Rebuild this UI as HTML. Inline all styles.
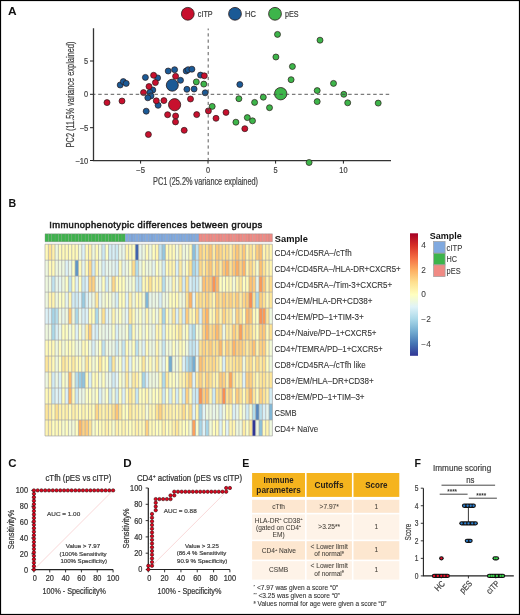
<!DOCTYPE html>
<html><head><meta charset="utf-8"><style>
html,body{margin:0;padding:0;background:#fff;width:520px;height:615px;overflow:hidden}
svg{display:block;font-family:"Liberation Sans", sans-serif;will-change:transform}
</style></head><body>
<svg width="520" height="615" viewBox="0 0 520 615" font-family='"Liberation Sans", sans-serif'><rect width="520" height="615" fill="#fff"/><circle cx="187.8" cy="13.8" r="6.4" fill="#c8102e" stroke="#2a1a1a" stroke-width="0.8"/><text x="197.80" y="17.10" font-size="9.2" fill="#3c3c3c" textLength="14.80" lengthAdjust="spacingAndGlyphs" stroke="#3c3c3c" stroke-width="0.22">cITP</text><circle cx="235.0" cy="13.8" r="6.4" fill="#1b5a96" stroke="#2a1a1a" stroke-width="0.8"/><text x="245.00" y="17.10" font-size="9.2" fill="#3c3c3c" textLength="10.80" lengthAdjust="spacingAndGlyphs" stroke="#3c3c3c" stroke-width="0.22">HC</text><circle cx="275.0" cy="13.8" r="6.4" fill="#3db54a" stroke="#2a1a1a" stroke-width="0.8"/><text x="285.00" y="17.10" font-size="9.2" fill="#3c3c3c" textLength="13.50" lengthAdjust="spacingAndGlyphs" stroke="#3c3c3c" stroke-width="0.22">pES</text><path d="M93.5 28.3V160.7H391" fill="none" stroke="#333" stroke-width="1.3"/><path d="M90 61.0H93.5" stroke="#222" stroke-width="1"/><text x="88.20" y="64.00" font-size="8.6" fill="#444" text-anchor="end" textLength="4.10" lengthAdjust="spacingAndGlyphs" stroke="#444" stroke-width="0.22">5</text><path d="M90 94.3H93.5" stroke="#222" stroke-width="1"/><text x="88.20" y="97.30" font-size="8.6" fill="#444" text-anchor="end" textLength="4.10" lengthAdjust="spacingAndGlyphs" stroke="#444" stroke-width="0.22">0</text><path d="M90 127.7H93.5" stroke="#222" stroke-width="1"/><text x="88.20" y="130.70" font-size="8.6" fill="#444" text-anchor="end" textLength="8.80" lengthAdjust="spacingAndGlyphs" stroke="#444" stroke-width="0.22">−5</text><path d="M90 160.5H93.5" stroke="#222" stroke-width="1"/><text x="88.20" y="163.50" font-size="8.6" fill="#444" text-anchor="end" textLength="12.90" lengthAdjust="spacingAndGlyphs" stroke="#444" stroke-width="0.22">−10</text><path d="M140.6 160.5V163.6" stroke="#222" stroke-width="1"/><text x="140.60" y="173.30" font-size="8.4" fill="#444" text-anchor="middle" textLength="8.80" lengthAdjust="spacingAndGlyphs" stroke="#444" stroke-width="0.22">−5</text><path d="M208.0 160.5V163.6" stroke="#222" stroke-width="1"/><text x="208.00" y="173.30" font-size="8.4" fill="#444" text-anchor="middle" textLength="4.10" lengthAdjust="spacingAndGlyphs" stroke="#444" stroke-width="0.22">0</text><path d="M275.6 160.5V163.6" stroke="#222" stroke-width="1"/><text x="275.60" y="173.30" font-size="8.4" fill="#444" text-anchor="middle" textLength="4.10" lengthAdjust="spacingAndGlyphs" stroke="#444" stroke-width="0.22">5</text><path d="M343.4 160.5V163.6" stroke="#222" stroke-width="1"/><text x="343.40" y="173.30" font-size="8.4" fill="#444" text-anchor="middle" textLength="8.20" lengthAdjust="spacingAndGlyphs" stroke="#444" stroke-width="0.22">10</text><text x="153.00" y="184.60" font-size="10.4" fill="#444" textLength="105.00" lengthAdjust="spacingAndGlyphs" stroke="#444" stroke-width="0.22">PC1 (25.2% variance explained)</text><text x="74.40" y="147.40" font-size="10.4" fill="#444" textLength="105.80" lengthAdjust="spacingAndGlyphs" stroke="#444" stroke-width="0.22" transform="rotate(-90 74.40 147.40)">PC2 (11.5% variance explained)</text><circle cx="172.3" cy="85.2" r="6.0" fill="#1b5a96" stroke="#2a1a1a" stroke-width="0.8"/><circle cx="174.6" cy="104.7" r="6.1" fill="#c8102e" stroke="#2a1a1a" stroke-width="0.8"/><circle cx="280.7" cy="93.7" r="6.2" fill="#3db54a" stroke="#2a1a1a" stroke-width="0.8"/><circle cx="196.3" cy="81.9" r="3.0" fill="#3db54a" stroke="#2a1a1a" stroke-width="0.7"/><circle cx="203.8" cy="84.1" r="3.0" fill="#3db54a" stroke="#2a1a1a" stroke-width="0.7"/><circle cx="212.2" cy="106.4" r="3.0" fill="#3db54a" stroke="#2a1a1a" stroke-width="0.7"/><circle cx="238.9" cy="98.7" r="3.0" fill="#3db54a" stroke="#2a1a1a" stroke-width="0.7"/><circle cx="254.6" cy="102.4" r="3.0" fill="#3db54a" stroke="#2a1a1a" stroke-width="0.7"/><circle cx="263.3" cy="97.2" r="3.0" fill="#3db54a" stroke="#2a1a1a" stroke-width="0.7"/><circle cx="235.9" cy="122.2" r="3.0" fill="#3db54a" stroke="#2a1a1a" stroke-width="0.7"/><circle cx="247.3" cy="117.6" r="3.0" fill="#3db54a" stroke="#2a1a1a" stroke-width="0.7"/><circle cx="252.5" cy="120.8" r="3.0" fill="#3db54a" stroke="#2a1a1a" stroke-width="0.7"/><circle cx="277.5" cy="34.4" r="3.0" fill="#3db54a" stroke="#2a1a1a" stroke-width="0.7"/><circle cx="320" cy="40.2" r="3.0" fill="#3db54a" stroke="#2a1a1a" stroke-width="0.7"/><circle cx="275.9" cy="57" r="3.0" fill="#3db54a" stroke="#2a1a1a" stroke-width="0.7"/><circle cx="292.4" cy="66.5" r="3.0" fill="#3db54a" stroke="#2a1a1a" stroke-width="0.7"/><circle cx="291.1" cy="79.7" r="3.0" fill="#3db54a" stroke="#2a1a1a" stroke-width="0.7"/><circle cx="269.5" cy="107.7" r="3.0" fill="#3db54a" stroke="#2a1a1a" stroke-width="0.7"/><circle cx="317.2" cy="90.6" r="3.0" fill="#3db54a" stroke="#2a1a1a" stroke-width="0.7"/><circle cx="317.2" cy="101.6" r="3.0" fill="#3db54a" stroke="#2a1a1a" stroke-width="0.7"/><circle cx="309.1" cy="162.5" r="3.0" fill="#3db54a" stroke="#2a1a1a" stroke-width="0.7"/><circle cx="333.5" cy="83.4" r="3.0" fill="#3db54a" stroke="#2a1a1a" stroke-width="0.7"/><circle cx="343.8" cy="94.3" r="3.0" fill="#3db54a" stroke="#2a1a1a" stroke-width="0.7"/><circle cx="347.7" cy="102.8" r="3.0" fill="#3db54a" stroke="#2a1a1a" stroke-width="0.7"/><circle cx="378.2" cy="103.1" r="3.0" fill="#3db54a" stroke="#2a1a1a" stroke-width="0.7"/><circle cx="120.2" cy="85" r="3.0" fill="#1b5a96" stroke="#2a1a1a" stroke-width="0.7"/><circle cx="123.3" cy="81.6" r="3.0" fill="#1b5a96" stroke="#2a1a1a" stroke-width="0.7"/><circle cx="126.2" cy="83.4" r="3.0" fill="#1b5a96" stroke="#2a1a1a" stroke-width="0.7"/><circle cx="145.4" cy="77.4" r="3.0" fill="#1b5a96" stroke="#2a1a1a" stroke-width="0.7"/><circle cx="157.6" cy="77.9" r="3.0" fill="#1b5a96" stroke="#2a1a1a" stroke-width="0.7"/><circle cx="152.8" cy="90" r="3.0" fill="#1b5a96" stroke="#2a1a1a" stroke-width="0.7"/><circle cx="149.9" cy="92.4" r="3.0" fill="#1b5a96" stroke="#2a1a1a" stroke-width="0.7"/><circle cx="151" cy="95.9" r="3.0" fill="#1b5a96" stroke="#2a1a1a" stroke-width="0.7"/><circle cx="147.8" cy="97.8" r="3.0" fill="#1b5a96" stroke="#2a1a1a" stroke-width="0.7"/><circle cx="158.1" cy="105.3" r="3.0" fill="#1b5a96" stroke="#2a1a1a" stroke-width="0.7"/><circle cx="146.2" cy="111.2" r="3.0" fill="#1b5a96" stroke="#2a1a1a" stroke-width="0.7"/><circle cx="168.2" cy="71" r="3.0" fill="#1b5a96" stroke="#2a1a1a" stroke-width="0.7"/><circle cx="174.6" cy="69.7" r="3.0" fill="#1b5a96" stroke="#2a1a1a" stroke-width="0.7"/><circle cx="180.5" cy="80.3" r="3.0" fill="#1b5a96" stroke="#2a1a1a" stroke-width="0.7"/><circle cx="186.2" cy="71" r="3.0" fill="#1b5a96" stroke="#2a1a1a" stroke-width="0.7"/><circle cx="188.1" cy="69.7" r="3.0" fill="#1b5a96" stroke="#2a1a1a" stroke-width="0.7"/><circle cx="191.9" cy="69.2" r="3.0" fill="#1b5a96" stroke="#2a1a1a" stroke-width="0.7"/><circle cx="200.5" cy="75.1" r="3.0" fill="#1b5a96" stroke="#2a1a1a" stroke-width="0.7"/><circle cx="186.9" cy="89.3" r="3.0" fill="#1b5a96" stroke="#2a1a1a" stroke-width="0.7"/><circle cx="194.1" cy="89" r="3.0" fill="#1b5a96" stroke="#2a1a1a" stroke-width="0.7"/><circle cx="205.2" cy="92.8" r="3.0" fill="#1b5a96" stroke="#2a1a1a" stroke-width="0.7"/><circle cx="239.8" cy="84.5" r="3.0" fill="#1b5a96" stroke="#2a1a1a" stroke-width="0.7"/><circle cx="107" cy="102.6" r="3.0" fill="#c8102e" stroke="#2a1a1a" stroke-width="0.7"/><circle cx="122" cy="101" r="3.0" fill="#c8102e" stroke="#2a1a1a" stroke-width="0.7"/><circle cx="143.5" cy="92.6" r="3.0" fill="#c8102e" stroke="#2a1a1a" stroke-width="0.7"/><circle cx="149" cy="86.5" r="3.0" fill="#c8102e" stroke="#2a1a1a" stroke-width="0.7"/><circle cx="153.6" cy="75.3" r="3.0" fill="#c8102e" stroke="#2a1a1a" stroke-width="0.7"/><circle cx="155.4" cy="82.6" r="3.0" fill="#c8102e" stroke="#2a1a1a" stroke-width="0.7"/><circle cx="156.3" cy="100.8" r="3.0" fill="#c8102e" stroke="#2a1a1a" stroke-width="0.7"/><circle cx="163.9" cy="100.6" r="3.0" fill="#c8102e" stroke="#2a1a1a" stroke-width="0.7"/><circle cx="175.6" cy="76.3" r="3.0" fill="#c8102e" stroke="#2a1a1a" stroke-width="0.7"/><circle cx="167.6" cy="114.7" r="3.0" fill="#c8102e" stroke="#2a1a1a" stroke-width="0.7"/><circle cx="175.6" cy="116" r="3.0" fill="#c8102e" stroke="#2a1a1a" stroke-width="0.7"/><circle cx="175.5" cy="121.9" r="3.0" fill="#c8102e" stroke="#2a1a1a" stroke-width="0.7"/><circle cx="148.4" cy="134.5" r="3.0" fill="#c8102e" stroke="#2a1a1a" stroke-width="0.7"/><circle cx="184.2" cy="130.3" r="3.0" fill="#c8102e" stroke="#2a1a1a" stroke-width="0.7"/><circle cx="190.5" cy="99" r="3.0" fill="#c8102e" stroke="#2a1a1a" stroke-width="0.7"/><circle cx="196.7" cy="114.6" r="3.0" fill="#c8102e" stroke="#2a1a1a" stroke-width="0.7"/><circle cx="204.3" cy="75.8" r="3.0" fill="#c8102e" stroke="#2a1a1a" stroke-width="0.7"/><circle cx="208.4" cy="110.9" r="3.0" fill="#c8102e" stroke="#2a1a1a" stroke-width="0.7"/><circle cx="216" cy="118.3" r="3.0" fill="#c8102e" stroke="#2a1a1a" stroke-width="0.7"/><circle cx="226" cy="112.4" r="3.0" fill="#c8102e" stroke="#2a1a1a" stroke-width="0.7"/><circle cx="244.8" cy="128.7" r="3.0" fill="#c8102e" stroke="#2a1a1a" stroke-width="0.7"/><path d="M93.5 94.3H391" stroke="#4a4a4a" stroke-width="1" stroke-dasharray="3.5 2.75" stroke-dashoffset="1.55" stroke-opacity="0.9"/><path d="M208.2 28.5V160.5" stroke="#4a4a4a" stroke-width="1" stroke-dasharray="3.2 3.03" stroke-dashoffset="1.43" stroke-opacity="0.9"/><rect x="45.000" y="233.8" width="3.394" height="8.0" fill="#3cb44b"/><rect x="48.344" y="233.8" width="3.394" height="8.0" fill="#3cb44b"/><rect x="51.688" y="233.8" width="3.394" height="8.0" fill="#3cb44b"/><rect x="55.032" y="233.8" width="3.394" height="8.0" fill="#3cb44b"/><rect x="58.376" y="233.8" width="3.394" height="8.0" fill="#3cb44b"/><rect x="61.721" y="233.8" width="3.394" height="8.0" fill="#3cb44b"/><rect x="65.065" y="233.8" width="3.394" height="8.0" fill="#3cb44b"/><rect x="68.409" y="233.8" width="3.394" height="8.0" fill="#3cb44b"/><rect x="71.753" y="233.8" width="3.394" height="8.0" fill="#3cb44b"/><rect x="75.097" y="233.8" width="3.394" height="8.0" fill="#3cb44b"/><rect x="78.441" y="233.8" width="3.394" height="8.0" fill="#3cb44b"/><rect x="81.785" y="233.8" width="3.394" height="8.0" fill="#3cb44b"/><rect x="85.129" y="233.8" width="3.394" height="8.0" fill="#3cb44b"/><rect x="88.474" y="233.8" width="3.394" height="8.0" fill="#3cb44b"/><rect x="91.818" y="233.8" width="3.394" height="8.0" fill="#3cb44b"/><rect x="95.162" y="233.8" width="3.394" height="8.0" fill="#3cb44b"/><rect x="98.506" y="233.8" width="3.394" height="8.0" fill="#3cb44b"/><rect x="101.850" y="233.8" width="3.394" height="8.0" fill="#3cb44b"/><rect x="105.194" y="233.8" width="3.394" height="8.0" fill="#3cb44b"/><rect x="108.538" y="233.8" width="3.394" height="8.0" fill="#3cb44b"/><rect x="111.882" y="233.8" width="3.394" height="8.0" fill="#3cb44b"/><rect x="115.226" y="233.8" width="3.394" height="8.0" fill="#3cb44b"/><rect x="118.571" y="233.8" width="3.394" height="8.0" fill="#3cb44b"/><rect x="121.915" y="233.8" width="3.394" height="8.0" fill="#3cb44b"/><rect x="125.259" y="233.8" width="3.394" height="8.0" fill="#80a9df"/><rect x="128.603" y="233.8" width="3.394" height="8.0" fill="#80a9df"/><rect x="131.947" y="233.8" width="3.394" height="8.0" fill="#80a9df"/><rect x="135.291" y="233.8" width="3.394" height="8.0" fill="#80a9df"/><rect x="138.635" y="233.8" width="3.394" height="8.0" fill="#80a9df"/><rect x="141.979" y="233.8" width="3.394" height="8.0" fill="#80a9df"/><rect x="145.324" y="233.8" width="3.394" height="8.0" fill="#80a9df"/><rect x="148.668" y="233.8" width="3.394" height="8.0" fill="#80a9df"/><rect x="152.012" y="233.8" width="3.394" height="8.0" fill="#80a9df"/><rect x="155.356" y="233.8" width="3.394" height="8.0" fill="#80a9df"/><rect x="158.700" y="233.8" width="3.394" height="8.0" fill="#80a9df"/><rect x="162.044" y="233.8" width="3.394" height="8.0" fill="#80a9df"/><rect x="165.388" y="233.8" width="3.394" height="8.0" fill="#80a9df"/><rect x="168.732" y="233.8" width="3.394" height="8.0" fill="#80a9df"/><rect x="172.076" y="233.8" width="3.394" height="8.0" fill="#80a9df"/><rect x="175.421" y="233.8" width="3.394" height="8.0" fill="#80a9df"/><rect x="178.765" y="233.8" width="3.394" height="8.0" fill="#80a9df"/><rect x="182.109" y="233.8" width="3.394" height="8.0" fill="#80a9df"/><rect x="185.453" y="233.8" width="3.394" height="8.0" fill="#80a9df"/><rect x="188.797" y="233.8" width="3.394" height="8.0" fill="#80a9df"/><rect x="192.141" y="233.8" width="3.394" height="8.0" fill="#80a9df"/><rect x="195.485" y="233.8" width="3.394" height="8.0" fill="#80a9df"/><rect x="198.829" y="233.8" width="3.394" height="8.0" fill="#f08a84"/><rect x="202.174" y="233.8" width="3.394" height="8.0" fill="#f08a84"/><rect x="205.518" y="233.8" width="3.394" height="8.0" fill="#f08a84"/><rect x="208.862" y="233.8" width="3.394" height="8.0" fill="#f08a84"/><rect x="212.206" y="233.8" width="3.394" height="8.0" fill="#f08a84"/><rect x="215.550" y="233.8" width="3.394" height="8.0" fill="#f08a84"/><rect x="218.894" y="233.8" width="3.394" height="8.0" fill="#f08a84"/><rect x="222.238" y="233.8" width="3.394" height="8.0" fill="#f08a84"/><rect x="225.582" y="233.8" width="3.394" height="8.0" fill="#f08a84"/><rect x="228.926" y="233.8" width="3.394" height="8.0" fill="#f08a84"/><rect x="232.271" y="233.8" width="3.394" height="8.0" fill="#f08a84"/><rect x="235.615" y="233.8" width="3.394" height="8.0" fill="#f08a84"/><rect x="238.959" y="233.8" width="3.394" height="8.0" fill="#f08a84"/><rect x="242.303" y="233.8" width="3.394" height="8.0" fill="#f08a84"/><rect x="245.647" y="233.8" width="3.394" height="8.0" fill="#f08a84"/><rect x="248.991" y="233.8" width="3.394" height="8.0" fill="#f08a84"/><rect x="252.335" y="233.8" width="3.394" height="8.0" fill="#f08a84"/><rect x="255.679" y="233.8" width="3.394" height="8.0" fill="#f08a84"/><rect x="259.024" y="233.8" width="3.394" height="8.0" fill="#f08a84"/><rect x="262.368" y="233.8" width="3.394" height="8.0" fill="#f08a84"/><rect x="265.712" y="233.8" width="3.394" height="8.0" fill="#f08a84"/><rect x="269.056" y="233.8" width="3.394" height="8.0" fill="#f08a84"/><rect x="45.000" y="244.200" width="3.394" height="16.030" fill="#fffab8"/><rect x="48.344" y="244.200" width="3.394" height="16.030" fill="#fee292"/><rect x="51.688" y="244.200" width="3.394" height="16.030" fill="#fff0a9"/><rect x="55.032" y="244.200" width="3.394" height="16.030" fill="#eef8de"/><rect x="58.376" y="244.200" width="3.394" height="16.030" fill="#fffab8"/><rect x="61.721" y="244.200" width="3.394" height="16.030" fill="#fffab8"/><rect x="65.065" y="244.200" width="3.394" height="16.030" fill="#fffab8"/><rect x="68.409" y="244.200" width="3.394" height="16.030" fill="#fffab8"/><rect x="71.753" y="244.200" width="3.394" height="16.030" fill="#fffab8"/><rect x="75.097" y="244.200" width="3.394" height="16.030" fill="#fffab8"/><rect x="78.441" y="244.200" width="3.394" height="16.030" fill="#eef8de"/><rect x="81.785" y="244.200" width="3.394" height="16.030" fill="#ddf2f7"/><rect x="85.129" y="244.200" width="3.394" height="16.030" fill="#fffab8"/><rect x="88.474" y="244.200" width="3.394" height="16.030" fill="#fff0a9"/><rect x="91.818" y="244.200" width="3.394" height="16.030" fill="#eef8de"/><rect x="95.162" y="244.200" width="3.394" height="16.030" fill="#fffab8"/><rect x="98.506" y="244.200" width="3.394" height="16.030" fill="#eef8de"/><rect x="101.850" y="244.200" width="3.394" height="16.030" fill="#cce9f2"/><rect x="105.194" y="244.200" width="3.394" height="16.030" fill="#fcfec5"/><rect x="108.538" y="244.200" width="3.394" height="16.030" fill="#d2ecf4"/><rect x="111.882" y="244.200" width="3.394" height="16.030" fill="#d8eff6"/><rect x="115.226" y="244.200" width="3.394" height="16.030" fill="#cce9f2"/><rect x="118.571" y="244.200" width="3.394" height="16.030" fill="#ebf7e4"/><rect x="121.915" y="244.200" width="3.394" height="16.030" fill="#e8f6ea"/><rect x="125.259" y="244.200" width="3.394" height="16.030" fill="#fff5b0"/><rect x="128.603" y="244.200" width="3.394" height="16.030" fill="#fffab8"/><rect x="131.947" y="244.200" width="3.394" height="16.030" fill="#fffebe"/><rect x="135.291" y="244.200" width="3.394" height="16.030" fill="#4064ac"/><rect x="138.635" y="244.200" width="3.394" height="16.030" fill="#e8f6ea"/><rect x="141.979" y="244.200" width="3.394" height="16.030" fill="#eef8de"/><rect x="145.324" y="244.200" width="3.394" height="16.030" fill="#fffab8"/><rect x="148.668" y="244.200" width="3.394" height="16.030" fill="#eef8de"/><rect x="152.012" y="244.200" width="3.394" height="16.030" fill="#fffebe"/><rect x="155.356" y="244.200" width="3.394" height="16.030" fill="#fff5b0"/><rect x="158.700" y="244.200" width="3.394" height="16.030" fill="#c0e3ef"/><rect x="162.044" y="244.200" width="3.394" height="16.030" fill="#95c7df"/><rect x="165.388" y="244.200" width="3.394" height="16.030" fill="#fffab8"/><rect x="168.732" y="244.200" width="3.394" height="16.030" fill="#fffab8"/><rect x="172.076" y="244.200" width="3.394" height="16.030" fill="#fffab8"/><rect x="175.421" y="244.200" width="3.394" height="16.030" fill="#eef8de"/><rect x="178.765" y="244.200" width="3.394" height="16.030" fill="#fff5b0"/><rect x="182.109" y="244.200" width="3.394" height="16.030" fill="#eef8de"/><rect x="185.453" y="244.200" width="3.394" height="16.030" fill="#f3fad6"/><rect x="188.797" y="244.200" width="3.394" height="16.030" fill="#fffab8"/><rect x="192.141" y="244.200" width="3.394" height="16.030" fill="#8abfdb"/><rect x="195.485" y="244.200" width="3.394" height="16.030" fill="#c0e3ef"/><rect x="198.829" y="244.200" width="3.394" height="16.030" fill="#fed182"/><rect x="202.174" y="244.200" width="3.394" height="16.030" fill="#fee292"/><rect x="205.518" y="244.200" width="3.394" height="16.030" fill="#fedd8d"/><rect x="208.862" y="244.200" width="3.394" height="16.030" fill="#fdc677"/><rect x="212.206" y="244.200" width="3.394" height="16.030" fill="#feeba1"/><rect x="215.550" y="244.200" width="3.394" height="16.030" fill="#fecc7d"/><rect x="218.894" y="244.200" width="3.394" height="16.030" fill="#fed788"/><rect x="222.238" y="244.200" width="3.394" height="16.030" fill="#fee292"/><rect x="225.582" y="244.200" width="3.394" height="16.030" fill="#fedd8d"/><rect x="228.926" y="244.200" width="3.394" height="16.030" fill="#fff0a9"/><rect x="232.271" y="244.200" width="3.394" height="16.030" fill="#fed788"/><rect x="235.615" y="244.200" width="3.394" height="16.030" fill="#fdc677"/><rect x="238.959" y="244.200" width="3.394" height="16.030" fill="#fee292"/><rect x="242.303" y="244.200" width="3.394" height="16.030" fill="#fdc677"/><rect x="245.647" y="244.200" width="3.394" height="16.030" fill="#fff5b0"/><rect x="248.991" y="244.200" width="3.394" height="16.030" fill="#fee292"/><rect x="252.335" y="244.200" width="3.394" height="16.030" fill="#fff0a9"/><rect x="255.679" y="244.200" width="3.394" height="16.030" fill="#fecc7d"/><rect x="259.024" y="244.200" width="3.394" height="16.030" fill="#fdc072"/><rect x="262.368" y="244.200" width="3.394" height="16.030" fill="#fff5b0"/><rect x="265.712" y="244.200" width="3.394" height="16.030" fill="#fff0a9"/><rect x="269.056" y="244.200" width="3.394" height="16.030" fill="#fff5b0"/><rect x="45.000" y="260.180" width="3.394" height="16.030" fill="#eef8de"/><rect x="48.344" y="260.180" width="3.394" height="16.030" fill="#fffab8"/><rect x="51.688" y="260.180" width="3.394" height="16.030" fill="#fffab8"/><rect x="55.032" y="260.180" width="3.394" height="16.030" fill="#eef8de"/><rect x="58.376" y="260.180" width="3.394" height="16.030" fill="#eef8de"/><rect x="61.721" y="260.180" width="3.394" height="16.030" fill="#eef8de"/><rect x="65.065" y="260.180" width="3.394" height="16.030" fill="#ddf2f7"/><rect x="68.409" y="260.180" width="3.394" height="16.030" fill="#e8f6ea"/><rect x="71.753" y="260.180" width="3.394" height="16.030" fill="#fcfec5"/><rect x="75.097" y="260.180" width="3.394" height="16.030" fill="#6197c5"/><rect x="78.441" y="260.180" width="3.394" height="16.030" fill="#fffab8"/><rect x="81.785" y="260.180" width="3.394" height="16.030" fill="#e5f5ef"/><rect x="85.129" y="260.180" width="3.394" height="16.030" fill="#fffab8"/><rect x="88.474" y="260.180" width="3.394" height="16.030" fill="#fed788"/><rect x="91.818" y="260.180" width="3.394" height="16.030" fill="#d2ecf4"/><rect x="95.162" y="260.180" width="3.394" height="16.030" fill="#fff5b0"/><rect x="98.506" y="260.180" width="3.394" height="16.030" fill="#eef8de"/><rect x="101.850" y="260.180" width="3.394" height="16.030" fill="#d8eff6"/><rect x="105.194" y="260.180" width="3.394" height="16.030" fill="#e8f6ea"/><rect x="108.538" y="260.180" width="3.394" height="16.030" fill="#e8f6ea"/><rect x="111.882" y="260.180" width="3.394" height="16.030" fill="#e5f5ef"/><rect x="115.226" y="260.180" width="3.394" height="16.030" fill="#d8eff6"/><rect x="118.571" y="260.180" width="3.394" height="16.030" fill="#fffab8"/><rect x="121.915" y="260.180" width="3.394" height="16.030" fill="#e5f5ef"/><rect x="125.259" y="260.180" width="3.394" height="16.030" fill="#eef8de"/><rect x="128.603" y="260.180" width="3.394" height="16.030" fill="#fcfec5"/><rect x="131.947" y="260.180" width="3.394" height="16.030" fill="#fedd8d"/><rect x="135.291" y="260.180" width="3.394" height="16.030" fill="#b0dcea"/><rect x="138.635" y="260.180" width="3.394" height="16.030" fill="#ebf7e4"/><rect x="141.979" y="260.180" width="3.394" height="16.030" fill="#fcfec5"/><rect x="145.324" y="260.180" width="3.394" height="16.030" fill="#eef8de"/><rect x="148.668" y="260.180" width="3.394" height="16.030" fill="#eef8de"/><rect x="152.012" y="260.180" width="3.394" height="16.030" fill="#e5f5ef"/><rect x="155.356" y="260.180" width="3.394" height="16.030" fill="#fffebe"/><rect x="158.700" y="260.180" width="3.394" height="16.030" fill="#eef8de"/><rect x="162.044" y="260.180" width="3.394" height="16.030" fill="#d2ecf4"/><rect x="165.388" y="260.180" width="3.394" height="16.030" fill="#fffab8"/><rect x="168.732" y="260.180" width="3.394" height="16.030" fill="#fff5b0"/><rect x="172.076" y="260.180" width="3.394" height="16.030" fill="#fff5b0"/><rect x="175.421" y="260.180" width="3.394" height="16.030" fill="#d8eff6"/><rect x="178.765" y="260.180" width="3.394" height="16.030" fill="#feeba1"/><rect x="182.109" y="260.180" width="3.394" height="16.030" fill="#eef8de"/><rect x="185.453" y="260.180" width="3.394" height="16.030" fill="#fffab8"/><rect x="188.797" y="260.180" width="3.394" height="16.030" fill="#fee292"/><rect x="192.141" y="260.180" width="3.394" height="16.030" fill="#a6d5e7"/><rect x="195.485" y="260.180" width="3.394" height="16.030" fill="#c0e3ef"/><rect x="198.829" y="260.180" width="3.394" height="16.030" fill="#fed788"/><rect x="202.174" y="260.180" width="3.394" height="16.030" fill="#feeba1"/><rect x="205.518" y="260.180" width="3.394" height="16.030" fill="#fed788"/><rect x="208.862" y="260.180" width="3.394" height="16.030" fill="#fdc677"/><rect x="212.206" y="260.180" width="3.394" height="16.030" fill="#feeba1"/><rect x="215.550" y="260.180" width="3.394" height="16.030" fill="#fecc7d"/><rect x="218.894" y="260.180" width="3.394" height="16.030" fill="#feeba1"/><rect x="222.238" y="260.180" width="3.394" height="16.030" fill="#fdc677"/><rect x="225.582" y="260.180" width="3.394" height="16.030" fill="#fdb467"/><rect x="228.926" y="260.180" width="3.394" height="16.030" fill="#fee292"/><rect x="232.271" y="260.180" width="3.394" height="16.030" fill="#fdc677"/><rect x="235.615" y="260.180" width="3.394" height="16.030" fill="#fdaf62"/><rect x="238.959" y="260.180" width="3.394" height="16.030" fill="#fed182"/><rect x="242.303" y="260.180" width="3.394" height="16.030" fill="#fdb467"/><rect x="245.647" y="260.180" width="3.394" height="16.030" fill="#fff5b0"/><rect x="248.991" y="260.180" width="3.394" height="16.030" fill="#fed788"/><rect x="252.335" y="260.180" width="3.394" height="16.030" fill="#feeba1"/><rect x="255.679" y="260.180" width="3.394" height="16.030" fill="#f7fccd"/><rect x="259.024" y="260.180" width="3.394" height="16.030" fill="#fdc072"/><rect x="262.368" y="260.180" width="3.394" height="16.030" fill="#fee292"/><rect x="265.712" y="260.180" width="3.394" height="16.030" fill="#fff5b0"/><rect x="269.056" y="260.180" width="3.394" height="16.030" fill="#fff5b0"/><rect x="45.000" y="276.160" width="3.394" height="16.030" fill="#eef8de"/><rect x="48.344" y="276.160" width="3.394" height="16.030" fill="#eef8de"/><rect x="51.688" y="276.160" width="3.394" height="16.030" fill="#c0e3ef"/><rect x="55.032" y="276.160" width="3.394" height="16.030" fill="#e8f6ea"/><rect x="58.376" y="276.160" width="3.394" height="16.030" fill="#e5f5ef"/><rect x="61.721" y="276.160" width="3.394" height="16.030" fill="#eef8de"/><rect x="65.065" y="276.160" width="3.394" height="16.030" fill="#fcfec5"/><rect x="68.409" y="276.160" width="3.394" height="16.030" fill="#c0e3ef"/><rect x="71.753" y="276.160" width="3.394" height="16.030" fill="#fffebe"/><rect x="75.097" y="276.160" width="3.394" height="16.030" fill="#ddf2f7"/><rect x="78.441" y="276.160" width="3.394" height="16.030" fill="#fffebe"/><rect x="81.785" y="276.160" width="3.394" height="16.030" fill="#cce9f2"/><rect x="85.129" y="276.160" width="3.394" height="16.030" fill="#ddf2f7"/><rect x="88.474" y="276.160" width="3.394" height="16.030" fill="#fed182"/><rect x="91.818" y="276.160" width="3.394" height="16.030" fill="#fed182"/><rect x="95.162" y="276.160" width="3.394" height="16.030" fill="#eef8de"/><rect x="98.506" y="276.160" width="3.394" height="16.030" fill="#e8f6ea"/><rect x="101.850" y="276.160" width="3.394" height="16.030" fill="#fffebe"/><rect x="105.194" y="276.160" width="3.394" height="16.030" fill="#d2ecf4"/><rect x="108.538" y="276.160" width="3.394" height="16.030" fill="#eef8de"/><rect x="111.882" y="276.160" width="3.394" height="16.030" fill="#fed788"/><rect x="115.226" y="276.160" width="3.394" height="16.030" fill="#fffab8"/><rect x="118.571" y="276.160" width="3.394" height="16.030" fill="#fffebe"/><rect x="121.915" y="276.160" width="3.394" height="16.030" fill="#fffebe"/><rect x="125.259" y="276.160" width="3.394" height="16.030" fill="#eef8de"/><rect x="128.603" y="276.160" width="3.394" height="16.030" fill="#eef8de"/><rect x="131.947" y="276.160" width="3.394" height="16.030" fill="#f7fccd"/><rect x="135.291" y="276.160" width="3.394" height="16.030" fill="#c6e6f1"/><rect x="138.635" y="276.160" width="3.394" height="16.030" fill="#cce9f2"/><rect x="141.979" y="276.160" width="3.394" height="16.030" fill="#fffab8"/><rect x="145.324" y="276.160" width="3.394" height="16.030" fill="#fff5b0"/><rect x="148.668" y="276.160" width="3.394" height="16.030" fill="#fee292"/><rect x="152.012" y="276.160" width="3.394" height="16.030" fill="#fffab8"/><rect x="155.356" y="276.160" width="3.394" height="16.030" fill="#fff5b0"/><rect x="158.700" y="276.160" width="3.394" height="16.030" fill="#fff5b0"/><rect x="162.044" y="276.160" width="3.394" height="16.030" fill="#b6deec"/><rect x="165.388" y="276.160" width="3.394" height="16.030" fill="#eef8de"/><rect x="168.732" y="276.160" width="3.394" height="16.030" fill="#ebf7e4"/><rect x="172.076" y="276.160" width="3.394" height="16.030" fill="#fff5b0"/><rect x="175.421" y="276.160" width="3.394" height="16.030" fill="#eef8de"/><rect x="178.765" y="276.160" width="3.394" height="16.030" fill="#fee79a"/><rect x="182.109" y="276.160" width="3.394" height="16.030" fill="#d2ecf4"/><rect x="185.453" y="276.160" width="3.394" height="16.030" fill="#fee292"/><rect x="188.797" y="276.160" width="3.394" height="16.030" fill="#d8eff6"/><rect x="192.141" y="276.160" width="3.394" height="16.030" fill="#c6e6f1"/><rect x="195.485" y="276.160" width="3.394" height="16.030" fill="#cce9f2"/><rect x="198.829" y="276.160" width="3.394" height="16.030" fill="#eef8de"/><rect x="202.174" y="276.160" width="3.394" height="16.030" fill="#fdc072"/><rect x="205.518" y="276.160" width="3.394" height="16.030" fill="#fecc7d"/><rect x="208.862" y="276.160" width="3.394" height="16.030" fill="#fdc677"/><rect x="212.206" y="276.160" width="3.394" height="16.030" fill="#f99455"/><rect x="215.550" y="276.160" width="3.394" height="16.030" fill="#fdba6d"/><rect x="218.894" y="276.160" width="3.394" height="16.030" fill="#fffebe"/><rect x="222.238" y="276.160" width="3.394" height="16.030" fill="#fcfec5"/><rect x="225.582" y="276.160" width="3.394" height="16.030" fill="#fffab8"/><rect x="228.926" y="276.160" width="3.394" height="16.030" fill="#fffab8"/><rect x="232.271" y="276.160" width="3.394" height="16.030" fill="#f3fad6"/><rect x="235.615" y="276.160" width="3.394" height="16.030" fill="#fff5b0"/><rect x="238.959" y="276.160" width="3.394" height="16.030" fill="#fee79a"/><rect x="242.303" y="276.160" width="3.394" height="16.030" fill="#fffebe"/><rect x="245.647" y="276.160" width="3.394" height="16.030" fill="#fffab8"/><rect x="248.991" y="276.160" width="3.394" height="16.030" fill="#fdc072"/><rect x="252.335" y="276.160" width="3.394" height="16.030" fill="#fecc7d"/><rect x="255.679" y="276.160" width="3.394" height="16.030" fill="#e8f6ea"/><rect x="259.024" y="276.160" width="3.394" height="16.030" fill="#fa9b58"/><rect x="262.368" y="276.160" width="3.394" height="16.030" fill="#fdc677"/><rect x="265.712" y="276.160" width="3.394" height="16.030" fill="#fff5b0"/><rect x="269.056" y="276.160" width="3.394" height="16.030" fill="#fedd8d"/><rect x="45.000" y="292.140" width="3.394" height="16.030" fill="#eef8de"/><rect x="48.344" y="292.140" width="3.394" height="16.030" fill="#fff5b0"/><rect x="51.688" y="292.140" width="3.394" height="16.030" fill="#fff5b0"/><rect x="55.032" y="292.140" width="3.394" height="16.030" fill="#eef8de"/><rect x="58.376" y="292.140" width="3.394" height="16.030" fill="#fcfec5"/><rect x="61.721" y="292.140" width="3.394" height="16.030" fill="#fcfec5"/><rect x="65.065" y="292.140" width="3.394" height="16.030" fill="#e5f5ef"/><rect x="68.409" y="292.140" width="3.394" height="16.030" fill="#fff5b0"/><rect x="71.753" y="292.140" width="3.394" height="16.030" fill="#d2ecf4"/><rect x="75.097" y="292.140" width="3.394" height="16.030" fill="#cce9f2"/><rect x="78.441" y="292.140" width="3.394" height="16.030" fill="#ddf2f7"/><rect x="81.785" y="292.140" width="3.394" height="16.030" fill="#9acce2"/><rect x="85.129" y="292.140" width="3.394" height="16.030" fill="#d8eff6"/><rect x="88.474" y="292.140" width="3.394" height="16.030" fill="#e8f6ea"/><rect x="91.818" y="292.140" width="3.394" height="16.030" fill="#eef8de"/><rect x="95.162" y="292.140" width="3.394" height="16.030" fill="#fee79a"/><rect x="98.506" y="292.140" width="3.394" height="16.030" fill="#e5f5ef"/><rect x="101.850" y="292.140" width="3.394" height="16.030" fill="#f3fad6"/><rect x="105.194" y="292.140" width="3.394" height="16.030" fill="#f7fccd"/><rect x="108.538" y="292.140" width="3.394" height="16.030" fill="#f3fad6"/><rect x="111.882" y="292.140" width="3.394" height="16.030" fill="#ebf7e4"/><rect x="115.226" y="292.140" width="3.394" height="16.030" fill="#d2ecf4"/><rect x="118.571" y="292.140" width="3.394" height="16.030" fill="#fffebe"/><rect x="121.915" y="292.140" width="3.394" height="16.030" fill="#fffebe"/><rect x="125.259" y="292.140" width="3.394" height="16.030" fill="#ddf2f7"/><rect x="128.603" y="292.140" width="3.394" height="16.030" fill="#fff0a9"/><rect x="131.947" y="292.140" width="3.394" height="16.030" fill="#eef8de"/><rect x="135.291" y="292.140" width="3.394" height="16.030" fill="#fffab8"/><rect x="138.635" y="292.140" width="3.394" height="16.030" fill="#fffab8"/><rect x="141.979" y="292.140" width="3.394" height="16.030" fill="#f3fad6"/><rect x="145.324" y="292.140" width="3.394" height="16.030" fill="#81b8d7"/><rect x="148.668" y="292.140" width="3.394" height="16.030" fill="#e8f6ea"/><rect x="152.012" y="292.140" width="3.394" height="16.030" fill="#ebf7e4"/><rect x="155.356" y="292.140" width="3.394" height="16.030" fill="#ebf7e4"/><rect x="158.700" y="292.140" width="3.394" height="16.030" fill="#d8eff6"/><rect x="162.044" y="292.140" width="3.394" height="16.030" fill="#eef8de"/><rect x="165.388" y="292.140" width="3.394" height="16.030" fill="#eef8de"/><rect x="168.732" y="292.140" width="3.394" height="16.030" fill="#fffebe"/><rect x="172.076" y="292.140" width="3.394" height="16.030" fill="#fffebe"/><rect x="175.421" y="292.140" width="3.394" height="16.030" fill="#fffab8"/><rect x="178.765" y="292.140" width="3.394" height="16.030" fill="#f3fad6"/><rect x="182.109" y="292.140" width="3.394" height="16.030" fill="#eef8de"/><rect x="185.453" y="292.140" width="3.394" height="16.030" fill="#fee292"/><rect x="188.797" y="292.140" width="3.394" height="16.030" fill="#fdb467"/><rect x="192.141" y="292.140" width="3.394" height="16.030" fill="#e2f4f5"/><rect x="195.485" y="292.140" width="3.394" height="16.030" fill="#fee292"/><rect x="198.829" y="292.140" width="3.394" height="16.030" fill="#fedd8d"/><rect x="202.174" y="292.140" width="3.394" height="16.030" fill="#fee292"/><rect x="205.518" y="292.140" width="3.394" height="16.030" fill="#fed182"/><rect x="208.862" y="292.140" width="3.394" height="16.030" fill="#fee79a"/><rect x="212.206" y="292.140" width="3.394" height="16.030" fill="#fff5b0"/><rect x="215.550" y="292.140" width="3.394" height="16.030" fill="#fecc7d"/><rect x="218.894" y="292.140" width="3.394" height="16.030" fill="#fee292"/><rect x="222.238" y="292.140" width="3.394" height="16.030" fill="#fecc7d"/><rect x="225.582" y="292.140" width="3.394" height="16.030" fill="#fedd8d"/><rect x="228.926" y="292.140" width="3.394" height="16.030" fill="#fed182"/><rect x="232.271" y="292.140" width="3.394" height="16.030" fill="#fee292"/><rect x="235.615" y="292.140" width="3.394" height="16.030" fill="#fecc7d"/><rect x="238.959" y="292.140" width="3.394" height="16.030" fill="#feeba1"/><rect x="242.303" y="292.140" width="3.394" height="16.030" fill="#fed788"/><rect x="245.647" y="292.140" width="3.394" height="16.030" fill="#fecc7d"/><rect x="248.991" y="292.140" width="3.394" height="16.030" fill="#f98e52"/><rect x="252.335" y="292.140" width="3.394" height="16.030" fill="#fee292"/><rect x="255.679" y="292.140" width="3.394" height="16.030" fill="#b0dcea"/><rect x="259.024" y="292.140" width="3.394" height="16.030" fill="#fecc7d"/><rect x="262.368" y="292.140" width="3.394" height="16.030" fill="#fee292"/><rect x="265.712" y="292.140" width="3.394" height="16.030" fill="#fffab8"/><rect x="269.056" y="292.140" width="3.394" height="16.030" fill="#fee79a"/><rect x="45.000" y="308.120" width="3.394" height="16.030" fill="#ddf2f7"/><rect x="48.344" y="308.120" width="3.394" height="16.030" fill="#d8eff6"/><rect x="51.688" y="308.120" width="3.394" height="16.030" fill="#a6d5e7"/><rect x="55.032" y="308.120" width="3.394" height="16.030" fill="#b6deec"/><rect x="58.376" y="308.120" width="3.394" height="16.030" fill="#eef8de"/><rect x="61.721" y="308.120" width="3.394" height="16.030" fill="#e8f6ea"/><rect x="65.065" y="308.120" width="3.394" height="16.030" fill="#eef8de"/><rect x="68.409" y="308.120" width="3.394" height="16.030" fill="#fdc677"/><rect x="71.753" y="308.120" width="3.394" height="16.030" fill="#eef8de"/><rect x="75.097" y="308.120" width="3.394" height="16.030" fill="#abd9e9"/><rect x="78.441" y="308.120" width="3.394" height="16.030" fill="#e8f6ea"/><rect x="81.785" y="308.120" width="3.394" height="16.030" fill="#d8eff6"/><rect x="85.129" y="308.120" width="3.394" height="16.030" fill="#ddf2f7"/><rect x="88.474" y="308.120" width="3.394" height="16.030" fill="#fffab8"/><rect x="91.818" y="308.120" width="3.394" height="16.030" fill="#fffebe"/><rect x="95.162" y="308.120" width="3.394" height="16.030" fill="#abd9e9"/><rect x="98.506" y="308.120" width="3.394" height="16.030" fill="#eef8de"/><rect x="101.850" y="308.120" width="3.394" height="16.030" fill="#fee292"/><rect x="105.194" y="308.120" width="3.394" height="16.030" fill="#ddf2f7"/><rect x="108.538" y="308.120" width="3.394" height="16.030" fill="#e8f6ea"/><rect x="111.882" y="308.120" width="3.394" height="16.030" fill="#fff5b0"/><rect x="115.226" y="308.120" width="3.394" height="16.030" fill="#eef8de"/><rect x="118.571" y="308.120" width="3.394" height="16.030" fill="#fffebe"/><rect x="121.915" y="308.120" width="3.394" height="16.030" fill="#eef8de"/><rect x="125.259" y="308.120" width="3.394" height="16.030" fill="#e2f4f5"/><rect x="128.603" y="308.120" width="3.394" height="16.030" fill="#fee79a"/><rect x="131.947" y="308.120" width="3.394" height="16.030" fill="#fffab8"/><rect x="135.291" y="308.120" width="3.394" height="16.030" fill="#eef8de"/><rect x="138.635" y="308.120" width="3.394" height="16.030" fill="#fcfec5"/><rect x="141.979" y="308.120" width="3.394" height="16.030" fill="#ebf7e4"/><rect x="145.324" y="308.120" width="3.394" height="16.030" fill="#fff5b0"/><rect x="148.668" y="308.120" width="3.394" height="16.030" fill="#eef8de"/><rect x="152.012" y="308.120" width="3.394" height="16.030" fill="#fcfec5"/><rect x="155.356" y="308.120" width="3.394" height="16.030" fill="#ebf7e4"/><rect x="158.700" y="308.120" width="3.394" height="16.030" fill="#fff5b0"/><rect x="162.044" y="308.120" width="3.394" height="16.030" fill="#a6d5e7"/><rect x="165.388" y="308.120" width="3.394" height="16.030" fill="#fffab8"/><rect x="168.732" y="308.120" width="3.394" height="16.030" fill="#eef8de"/><rect x="172.076" y="308.120" width="3.394" height="16.030" fill="#fee79a"/><rect x="175.421" y="308.120" width="3.394" height="16.030" fill="#d8eff6"/><rect x="178.765" y="308.120" width="3.394" height="16.030" fill="#fff0a9"/><rect x="182.109" y="308.120" width="3.394" height="16.030" fill="#d2ecf4"/><rect x="185.453" y="308.120" width="3.394" height="16.030" fill="#fecc7d"/><rect x="188.797" y="308.120" width="3.394" height="16.030" fill="#fff5b0"/><rect x="192.141" y="308.120" width="3.394" height="16.030" fill="#fffab8"/><rect x="195.485" y="308.120" width="3.394" height="16.030" fill="#fed788"/><rect x="198.829" y="308.120" width="3.394" height="16.030" fill="#d8eff6"/><rect x="202.174" y="308.120" width="3.394" height="16.030" fill="#fecc7d"/><rect x="205.518" y="308.120" width="3.394" height="16.030" fill="#fdb467"/><rect x="208.862" y="308.120" width="3.394" height="16.030" fill="#fffab8"/><rect x="212.206" y="308.120" width="3.394" height="16.030" fill="#fff5b0"/><rect x="215.550" y="308.120" width="3.394" height="16.030" fill="#fed182"/><rect x="218.894" y="308.120" width="3.394" height="16.030" fill="#fff5b0"/><rect x="222.238" y="308.120" width="3.394" height="16.030" fill="#fed182"/><rect x="225.582" y="308.120" width="3.394" height="16.030" fill="#fee79a"/><rect x="228.926" y="308.120" width="3.394" height="16.030" fill="#feeba1"/><rect x="232.271" y="308.120" width="3.394" height="16.030" fill="#f3fad6"/><rect x="235.615" y="308.120" width="3.394" height="16.030" fill="#fed182"/><rect x="238.959" y="308.120" width="3.394" height="16.030" fill="#fee79a"/><rect x="242.303" y="308.120" width="3.394" height="16.030" fill="#fffebe"/><rect x="245.647" y="308.120" width="3.394" height="16.030" fill="#fdba6d"/><rect x="248.991" y="308.120" width="3.394" height="16.030" fill="#fdc677"/><rect x="252.335" y="308.120" width="3.394" height="16.030" fill="#fffab8"/><rect x="255.679" y="308.120" width="3.394" height="16.030" fill="#fcfec5"/><rect x="259.024" y="308.120" width="3.394" height="16.030" fill="#f99455"/><rect x="262.368" y="308.120" width="3.394" height="16.030" fill="#fa9b58"/><rect x="265.712" y="308.120" width="3.394" height="16.030" fill="#fee79a"/><rect x="269.056" y="308.120" width="3.394" height="16.030" fill="#eef8de"/><rect x="45.000" y="324.100" width="3.394" height="16.030" fill="#eef8de"/><rect x="48.344" y="324.100" width="3.394" height="16.030" fill="#eef8de"/><rect x="51.688" y="324.100" width="3.394" height="16.030" fill="#abd9e9"/><rect x="55.032" y="324.100" width="3.394" height="16.030" fill="#d8eff6"/><rect x="58.376" y="324.100" width="3.394" height="16.030" fill="#e8f6ea"/><rect x="61.721" y="324.100" width="3.394" height="16.030" fill="#fffebe"/><rect x="65.065" y="324.100" width="3.394" height="16.030" fill="#fcfec5"/><rect x="68.409" y="324.100" width="3.394" height="16.030" fill="#eef8de"/><rect x="71.753" y="324.100" width="3.394" height="16.030" fill="#fcfec5"/><rect x="75.097" y="324.100" width="3.394" height="16.030" fill="#ddf2f7"/><rect x="78.441" y="324.100" width="3.394" height="16.030" fill="#fcfec5"/><rect x="81.785" y="324.100" width="3.394" height="16.030" fill="#e8f6ea"/><rect x="85.129" y="324.100" width="3.394" height="16.030" fill="#fff0a9"/><rect x="88.474" y="324.100" width="3.394" height="16.030" fill="#fecc7d"/><rect x="91.818" y="324.100" width="3.394" height="16.030" fill="#e2f4f5"/><rect x="95.162" y="324.100" width="3.394" height="16.030" fill="#d2ecf4"/><rect x="98.506" y="324.100" width="3.394" height="16.030" fill="#eef8de"/><rect x="101.850" y="324.100" width="3.394" height="16.030" fill="#ebf7e4"/><rect x="105.194" y="324.100" width="3.394" height="16.030" fill="#e8f6ea"/><rect x="108.538" y="324.100" width="3.394" height="16.030" fill="#ebf7e4"/><rect x="111.882" y="324.100" width="3.394" height="16.030" fill="#fcfec5"/><rect x="115.226" y="324.100" width="3.394" height="16.030" fill="#d8eff6"/><rect x="118.571" y="324.100" width="3.394" height="16.030" fill="#eef8de"/><rect x="121.915" y="324.100" width="3.394" height="16.030" fill="#ebf7e4"/><rect x="125.259" y="324.100" width="3.394" height="16.030" fill="#f7fccd"/><rect x="128.603" y="324.100" width="3.394" height="16.030" fill="#b6deec"/><rect x="131.947" y="324.100" width="3.394" height="16.030" fill="#fffab8"/><rect x="135.291" y="324.100" width="3.394" height="16.030" fill="#ebf7e4"/><rect x="138.635" y="324.100" width="3.394" height="16.030" fill="#fcfec5"/><rect x="141.979" y="324.100" width="3.394" height="16.030" fill="#ebf7e4"/><rect x="145.324" y="324.100" width="3.394" height="16.030" fill="#fffebe"/><rect x="148.668" y="324.100" width="3.394" height="16.030" fill="#eef8de"/><rect x="152.012" y="324.100" width="3.394" height="16.030" fill="#e8f6ea"/><rect x="155.356" y="324.100" width="3.394" height="16.030" fill="#fff5b0"/><rect x="158.700" y="324.100" width="3.394" height="16.030" fill="#fffab8"/><rect x="162.044" y="324.100" width="3.394" height="16.030" fill="#d2ecf4"/><rect x="165.388" y="324.100" width="3.394" height="16.030" fill="#fffab8"/><rect x="168.732" y="324.100" width="3.394" height="16.030" fill="#fffebe"/><rect x="172.076" y="324.100" width="3.394" height="16.030" fill="#fffab8"/><rect x="175.421" y="324.100" width="3.394" height="16.030" fill="#fff5b0"/><rect x="178.765" y="324.100" width="3.394" height="16.030" fill="#fee79a"/><rect x="182.109" y="324.100" width="3.394" height="16.030" fill="#f3fad6"/><rect x="185.453" y="324.100" width="3.394" height="16.030" fill="#fffab8"/><rect x="188.797" y="324.100" width="3.394" height="16.030" fill="#cce9f2"/><rect x="192.141" y="324.100" width="3.394" height="16.030" fill="#abd9e9"/><rect x="195.485" y="324.100" width="3.394" height="16.030" fill="#f3fad6"/><rect x="198.829" y="324.100" width="3.394" height="16.030" fill="#f3fad6"/><rect x="202.174" y="324.100" width="3.394" height="16.030" fill="#fed182"/><rect x="205.518" y="324.100" width="3.394" height="16.030" fill="#fdb467"/><rect x="208.862" y="324.100" width="3.394" height="16.030" fill="#fedd8d"/><rect x="212.206" y="324.100" width="3.394" height="16.030" fill="#fed182"/><rect x="215.550" y="324.100" width="3.394" height="16.030" fill="#fdba6d"/><rect x="218.894" y="324.100" width="3.394" height="16.030" fill="#fedd8d"/><rect x="222.238" y="324.100" width="3.394" height="16.030" fill="#ebf7e4"/><rect x="225.582" y="324.100" width="3.394" height="16.030" fill="#feeba1"/><rect x="228.926" y="324.100" width="3.394" height="16.030" fill="#fff0a9"/><rect x="232.271" y="324.100" width="3.394" height="16.030" fill="#fecc7d"/><rect x="235.615" y="324.100" width="3.394" height="16.030" fill="#fee292"/><rect x="238.959" y="324.100" width="3.394" height="16.030" fill="#fba15b"/><rect x="242.303" y="324.100" width="3.394" height="16.030" fill="#fedd8d"/><rect x="245.647" y="324.100" width="3.394" height="16.030" fill="#fed182"/><rect x="248.991" y="324.100" width="3.394" height="16.030" fill="#fedd8d"/><rect x="252.335" y="324.100" width="3.394" height="16.030" fill="#fff0a9"/><rect x="255.679" y="324.100" width="3.394" height="16.030" fill="#fffebe"/><rect x="259.024" y="324.100" width="3.394" height="16.030" fill="#fecc7d"/><rect x="262.368" y="324.100" width="3.394" height="16.030" fill="#fdc677"/><rect x="265.712" y="324.100" width="3.394" height="16.030" fill="#fffab8"/><rect x="269.056" y="324.100" width="3.394" height="16.030" fill="#fee292"/><rect x="45.000" y="340.080" width="3.394" height="16.030" fill="#fffab8"/><rect x="48.344" y="340.080" width="3.394" height="16.030" fill="#fffab8"/><rect x="51.688" y="340.080" width="3.394" height="16.030" fill="#fffab8"/><rect x="55.032" y="340.080" width="3.394" height="16.030" fill="#eef8de"/><rect x="58.376" y="340.080" width="3.394" height="16.030" fill="#fffab8"/><rect x="61.721" y="340.080" width="3.394" height="16.030" fill="#f3fad6"/><rect x="65.065" y="340.080" width="3.394" height="16.030" fill="#fcfec5"/><rect x="68.409" y="340.080" width="3.394" height="16.030" fill="#fffab8"/><rect x="71.753" y="340.080" width="3.394" height="16.030" fill="#fcfec5"/><rect x="75.097" y="340.080" width="3.394" height="16.030" fill="#eef8de"/><rect x="78.441" y="340.080" width="3.394" height="16.030" fill="#eef8de"/><rect x="81.785" y="340.080" width="3.394" height="16.030" fill="#fffab8"/><rect x="85.129" y="340.080" width="3.394" height="16.030" fill="#fffebe"/><rect x="88.474" y="340.080" width="3.394" height="16.030" fill="#eef8de"/><rect x="91.818" y="340.080" width="3.394" height="16.030" fill="#d8eff6"/><rect x="95.162" y="340.080" width="3.394" height="16.030" fill="#eef8de"/><rect x="98.506" y="340.080" width="3.394" height="16.030" fill="#fffebe"/><rect x="101.850" y="340.080" width="3.394" height="16.030" fill="#c0e3ef"/><rect x="105.194" y="340.080" width="3.394" height="16.030" fill="#eef8de"/><rect x="108.538" y="340.080" width="3.394" height="16.030" fill="#ebf7e4"/><rect x="111.882" y="340.080" width="3.394" height="16.030" fill="#ebf7e4"/><rect x="115.226" y="340.080" width="3.394" height="16.030" fill="#cce9f2"/><rect x="118.571" y="340.080" width="3.394" height="16.030" fill="#eef8de"/><rect x="121.915" y="340.080" width="3.394" height="16.030" fill="#c6e6f1"/><rect x="125.259" y="340.080" width="3.394" height="16.030" fill="#fffab8"/><rect x="128.603" y="340.080" width="3.394" height="16.030" fill="#eef8de"/><rect x="131.947" y="340.080" width="3.394" height="16.030" fill="#fffebe"/><rect x="135.291" y="340.080" width="3.394" height="16.030" fill="#bbe1ee"/><rect x="138.635" y="340.080" width="3.394" height="16.030" fill="#eef8de"/><rect x="141.979" y="340.080" width="3.394" height="16.030" fill="#ddf2f7"/><rect x="145.324" y="340.080" width="3.394" height="16.030" fill="#fffab8"/><rect x="148.668" y="340.080" width="3.394" height="16.030" fill="#eef8de"/><rect x="152.012" y="340.080" width="3.394" height="16.030" fill="#ebf7e4"/><rect x="155.356" y="340.080" width="3.394" height="16.030" fill="#fff5b0"/><rect x="158.700" y="340.080" width="3.394" height="16.030" fill="#eef8de"/><rect x="162.044" y="340.080" width="3.394" height="16.030" fill="#c6e6f1"/><rect x="165.388" y="340.080" width="3.394" height="16.030" fill="#f3fad6"/><rect x="168.732" y="340.080" width="3.394" height="16.030" fill="#eef8de"/><rect x="172.076" y="340.080" width="3.394" height="16.030" fill="#fffebe"/><rect x="175.421" y="340.080" width="3.394" height="16.030" fill="#eef8de"/><rect x="178.765" y="340.080" width="3.394" height="16.030" fill="#fffab8"/><rect x="182.109" y="340.080" width="3.394" height="16.030" fill="#fcfec5"/><rect x="185.453" y="340.080" width="3.394" height="16.030" fill="#eef8de"/><rect x="188.797" y="340.080" width="3.394" height="16.030" fill="#c6e6f1"/><rect x="192.141" y="340.080" width="3.394" height="16.030" fill="#c0e3ef"/><rect x="195.485" y="340.080" width="3.394" height="16.030" fill="#d8eff6"/><rect x="198.829" y="340.080" width="3.394" height="16.030" fill="#fee292"/><rect x="202.174" y="340.080" width="3.394" height="16.030" fill="#fed182"/><rect x="205.518" y="340.080" width="3.394" height="16.030" fill="#fedd8d"/><rect x="208.862" y="340.080" width="3.394" height="16.030" fill="#fecc7d"/><rect x="212.206" y="340.080" width="3.394" height="16.030" fill="#fee292"/><rect x="215.550" y="340.080" width="3.394" height="16.030" fill="#fedd8d"/><rect x="218.894" y="340.080" width="3.394" height="16.030" fill="#fdba6d"/><rect x="222.238" y="340.080" width="3.394" height="16.030" fill="#fff0a9"/><rect x="225.582" y="340.080" width="3.394" height="16.030" fill="#fed182"/><rect x="228.926" y="340.080" width="3.394" height="16.030" fill="#fee292"/><rect x="232.271" y="340.080" width="3.394" height="16.030" fill="#fdb467"/><rect x="235.615" y="340.080" width="3.394" height="16.030" fill="#fed182"/><rect x="238.959" y="340.080" width="3.394" height="16.030" fill="#fecc7d"/><rect x="242.303" y="340.080" width="3.394" height="16.030" fill="#fed788"/><rect x="245.647" y="340.080" width="3.394" height="16.030" fill="#feeba1"/><rect x="248.991" y="340.080" width="3.394" height="16.030" fill="#fed788"/><rect x="252.335" y="340.080" width="3.394" height="16.030" fill="#fdc072"/><rect x="255.679" y="340.080" width="3.394" height="16.030" fill="#fff5b0"/><rect x="259.024" y="340.080" width="3.394" height="16.030" fill="#fed182"/><rect x="262.368" y="340.080" width="3.394" height="16.030" fill="#fecc7d"/><rect x="265.712" y="340.080" width="3.394" height="16.030" fill="#fffab8"/><rect x="269.056" y="340.080" width="3.394" height="16.030" fill="#f3fad6"/><rect x="45.000" y="356.060" width="3.394" height="16.030" fill="#fee79a"/><rect x="48.344" y="356.060" width="3.394" height="16.030" fill="#fff0a9"/><rect x="51.688" y="356.060" width="3.394" height="16.030" fill="#fffab8"/><rect x="55.032" y="356.060" width="3.394" height="16.030" fill="#eef8de"/><rect x="58.376" y="356.060" width="3.394" height="16.030" fill="#fffebe"/><rect x="61.721" y="356.060" width="3.394" height="16.030" fill="#fee79a"/><rect x="65.065" y="356.060" width="3.394" height="16.030" fill="#fff0a9"/><rect x="68.409" y="356.060" width="3.394" height="16.030" fill="#fff5b0"/><rect x="71.753" y="356.060" width="3.394" height="16.030" fill="#feeba1"/><rect x="75.097" y="356.060" width="3.394" height="16.030" fill="#fffab8"/><rect x="78.441" y="356.060" width="3.394" height="16.030" fill="#fffab8"/><rect x="81.785" y="356.060" width="3.394" height="16.030" fill="#f3fad6"/><rect x="85.129" y="356.060" width="3.394" height="16.030" fill="#fee79a"/><rect x="88.474" y="356.060" width="3.394" height="16.030" fill="#fffab8"/><rect x="91.818" y="356.060" width="3.394" height="16.030" fill="#f3fad6"/><rect x="95.162" y="356.060" width="3.394" height="16.030" fill="#fcfec5"/><rect x="98.506" y="356.060" width="3.394" height="16.030" fill="#fee79a"/><rect x="101.850" y="356.060" width="3.394" height="16.030" fill="#fffebe"/><rect x="105.194" y="356.060" width="3.394" height="16.030" fill="#fffebe"/><rect x="108.538" y="356.060" width="3.394" height="16.030" fill="#bbe1ee"/><rect x="111.882" y="356.060" width="3.394" height="16.030" fill="#fee79a"/><rect x="115.226" y="356.060" width="3.394" height="16.030" fill="#eef8de"/><rect x="118.571" y="356.060" width="3.394" height="16.030" fill="#fcfec5"/><rect x="121.915" y="356.060" width="3.394" height="16.030" fill="#ddf2f7"/><rect x="125.259" y="356.060" width="3.394" height="16.030" fill="#fff0a9"/><rect x="128.603" y="356.060" width="3.394" height="16.030" fill="#ddf2f7"/><rect x="131.947" y="356.060" width="3.394" height="16.030" fill="#fffebe"/><rect x="135.291" y="356.060" width="3.394" height="16.030" fill="#eef8de"/><rect x="138.635" y="356.060" width="3.394" height="16.030" fill="#fcfec5"/><rect x="141.979" y="356.060" width="3.394" height="16.030" fill="#fee79a"/><rect x="145.324" y="356.060" width="3.394" height="16.030" fill="#f3fad6"/><rect x="148.668" y="356.060" width="3.394" height="16.030" fill="#fffab8"/><rect x="152.012" y="356.060" width="3.394" height="16.030" fill="#f3fad6"/><rect x="155.356" y="356.060" width="3.394" height="16.030" fill="#feeba1"/><rect x="158.700" y="356.060" width="3.394" height="16.030" fill="#eef8de"/><rect x="162.044" y="356.060" width="3.394" height="16.030" fill="#e2f4f5"/><rect x="165.388" y="356.060" width="3.394" height="16.030" fill="#fffebe"/><rect x="168.732" y="356.060" width="3.394" height="16.030" fill="#74add1"/><rect x="172.076" y="356.060" width="3.394" height="16.030" fill="#eef8de"/><rect x="175.421" y="356.060" width="3.394" height="16.030" fill="#eef8de"/><rect x="178.765" y="356.060" width="3.394" height="16.030" fill="#fffab8"/><rect x="182.109" y="356.060" width="3.394" height="16.030" fill="#ddf2f7"/><rect x="185.453" y="356.060" width="3.394" height="16.030" fill="#b6deec"/><rect x="188.797" y="356.060" width="3.394" height="16.030" fill="#9acce2"/><rect x="192.141" y="356.060" width="3.394" height="16.030" fill="#74add1"/><rect x="195.485" y="356.060" width="3.394" height="16.030" fill="#e8f6ea"/><rect x="198.829" y="356.060" width="3.394" height="16.030" fill="#fdc072"/><rect x="202.174" y="356.060" width="3.394" height="16.030" fill="#fed182"/><rect x="205.518" y="356.060" width="3.394" height="16.030" fill="#fee292"/><rect x="208.862" y="356.060" width="3.394" height="16.030" fill="#fedd8d"/><rect x="212.206" y="356.060" width="3.394" height="16.030" fill="#fed788"/><rect x="215.550" y="356.060" width="3.394" height="16.030" fill="#fee79a"/><rect x="218.894" y="356.060" width="3.394" height="16.030" fill="#fffab8"/><rect x="222.238" y="356.060" width="3.394" height="16.030" fill="#d8eff6"/><rect x="225.582" y="356.060" width="3.394" height="16.030" fill="#fee79a"/><rect x="228.926" y="356.060" width="3.394" height="16.030" fill="#feeba1"/><rect x="232.271" y="356.060" width="3.394" height="16.030" fill="#fee292"/><rect x="235.615" y="356.060" width="3.394" height="16.030" fill="#fee292"/><rect x="238.959" y="356.060" width="3.394" height="16.030" fill="#fedd8d"/><rect x="242.303" y="356.060" width="3.394" height="16.030" fill="#eef8de"/><rect x="245.647" y="356.060" width="3.394" height="16.030" fill="#fee79a"/><rect x="248.991" y="356.060" width="3.394" height="16.030" fill="#fedd8d"/><rect x="252.335" y="356.060" width="3.394" height="16.030" fill="#fff5b0"/><rect x="255.679" y="356.060" width="3.394" height="16.030" fill="#fedd8d"/><rect x="259.024" y="356.060" width="3.394" height="16.030" fill="#feeba1"/><rect x="262.368" y="356.060" width="3.394" height="16.030" fill="#fedd8d"/><rect x="265.712" y="356.060" width="3.394" height="16.030" fill="#fffebe"/><rect x="269.056" y="356.060" width="3.394" height="16.030" fill="#eef8de"/><rect x="45.000" y="372.040" width="3.394" height="16.030" fill="#eef8de"/><rect x="48.344" y="372.040" width="3.394" height="16.030" fill="#fff5b0"/><rect x="51.688" y="372.040" width="3.394" height="16.030" fill="#d2ecf4"/><rect x="55.032" y="372.040" width="3.394" height="16.030" fill="#ebf7e4"/><rect x="58.376" y="372.040" width="3.394" height="16.030" fill="#d8eff6"/><rect x="61.721" y="372.040" width="3.394" height="16.030" fill="#fcfec5"/><rect x="65.065" y="372.040" width="3.394" height="16.030" fill="#f3fad6"/><rect x="68.409" y="372.040" width="3.394" height="16.030" fill="#fdba6d"/><rect x="71.753" y="372.040" width="3.394" height="16.030" fill="#f3fad6"/><rect x="75.097" y="372.040" width="3.394" height="16.030" fill="#b6deec"/><rect x="78.441" y="372.040" width="3.394" height="16.030" fill="#9acce2"/><rect x="81.785" y="372.040" width="3.394" height="16.030" fill="#90c3dd"/><rect x="85.129" y="372.040" width="3.394" height="16.030" fill="#fffab8"/><rect x="88.474" y="372.040" width="3.394" height="16.030" fill="#d8eff6"/><rect x="91.818" y="372.040" width="3.394" height="16.030" fill="#fffebe"/><rect x="95.162" y="372.040" width="3.394" height="16.030" fill="#fffab8"/><rect x="98.506" y="372.040" width="3.394" height="16.030" fill="#eef8de"/><rect x="101.850" y="372.040" width="3.394" height="16.030" fill="#fffebe"/><rect x="105.194" y="372.040" width="3.394" height="16.030" fill="#ebf7e4"/><rect x="108.538" y="372.040" width="3.394" height="16.030" fill="#e8f6ea"/><rect x="111.882" y="372.040" width="3.394" height="16.030" fill="#d2ecf4"/><rect x="115.226" y="372.040" width="3.394" height="16.030" fill="#e2f4f5"/><rect x="118.571" y="372.040" width="3.394" height="16.030" fill="#fcfec5"/><rect x="121.915" y="372.040" width="3.394" height="16.030" fill="#eef8de"/><rect x="125.259" y="372.040" width="3.394" height="16.030" fill="#fee79a"/><rect x="128.603" y="372.040" width="3.394" height="16.030" fill="#eef8de"/><rect x="131.947" y="372.040" width="3.394" height="16.030" fill="#feeba1"/><rect x="135.291" y="372.040" width="3.394" height="16.030" fill="#fff0a9"/><rect x="138.635" y="372.040" width="3.394" height="16.030" fill="#fcfec5"/><rect x="141.979" y="372.040" width="3.394" height="16.030" fill="#a6d5e7"/><rect x="145.324" y="372.040" width="3.394" height="16.030" fill="#d8eff6"/><rect x="148.668" y="372.040" width="3.394" height="16.030" fill="#eef8de"/><rect x="152.012" y="372.040" width="3.394" height="16.030" fill="#eef8de"/><rect x="155.356" y="372.040" width="3.394" height="16.030" fill="#eef8de"/><rect x="158.700" y="372.040" width="3.394" height="16.030" fill="#fffab8"/><rect x="162.044" y="372.040" width="3.394" height="16.030" fill="#b0dcea"/><rect x="165.388" y="372.040" width="3.394" height="16.030" fill="#fee79a"/><rect x="168.732" y="372.040" width="3.394" height="16.030" fill="#fcfec5"/><rect x="172.076" y="372.040" width="3.394" height="16.030" fill="#fffebe"/><rect x="175.421" y="372.040" width="3.394" height="16.030" fill="#f3fad6"/><rect x="178.765" y="372.040" width="3.394" height="16.030" fill="#fff5b0"/><rect x="182.109" y="372.040" width="3.394" height="16.030" fill="#fff5b0"/><rect x="185.453" y="372.040" width="3.394" height="16.030" fill="#fee292"/><rect x="188.797" y="372.040" width="3.394" height="16.030" fill="#fecc7d"/><rect x="192.141" y="372.040" width="3.394" height="16.030" fill="#ddf2f7"/><rect x="195.485" y="372.040" width="3.394" height="16.030" fill="#feeba1"/><rect x="198.829" y="372.040" width="3.394" height="16.030" fill="#fed182"/><rect x="202.174" y="372.040" width="3.394" height="16.030" fill="#feeba1"/><rect x="205.518" y="372.040" width="3.394" height="16.030" fill="#fed182"/><rect x="208.862" y="372.040" width="3.394" height="16.030" fill="#fee292"/><rect x="212.206" y="372.040" width="3.394" height="16.030" fill="#fff0a9"/><rect x="215.550" y="372.040" width="3.394" height="16.030" fill="#fff5b0"/><rect x="218.894" y="372.040" width="3.394" height="16.030" fill="#fecc7d"/><rect x="222.238" y="372.040" width="3.394" height="16.030" fill="#fed182"/><rect x="225.582" y="372.040" width="3.394" height="16.030" fill="#fff0a9"/><rect x="228.926" y="372.040" width="3.394" height="16.030" fill="#fca85e"/><rect x="232.271" y="372.040" width="3.394" height="16.030" fill="#fee79a"/><rect x="235.615" y="372.040" width="3.394" height="16.030" fill="#fff5b0"/><rect x="238.959" y="372.040" width="3.394" height="16.030" fill="#fff0a9"/><rect x="242.303" y="372.040" width="3.394" height="16.030" fill="#ddf2f7"/><rect x="245.647" y="372.040" width="3.394" height="16.030" fill="#fed182"/><rect x="248.991" y="372.040" width="3.394" height="16.030" fill="#fed182"/><rect x="252.335" y="372.040" width="3.394" height="16.030" fill="#feeba1"/><rect x="255.679" y="372.040" width="3.394" height="16.030" fill="#fffab8"/><rect x="259.024" y="372.040" width="3.394" height="16.030" fill="#fee79a"/><rect x="262.368" y="372.040" width="3.394" height="16.030" fill="#fee292"/><rect x="265.712" y="372.040" width="3.394" height="16.030" fill="#fff0a9"/><rect x="269.056" y="372.040" width="3.394" height="16.030" fill="#fee79a"/><rect x="45.000" y="388.020" width="3.394" height="16.030" fill="#fffab8"/><rect x="48.344" y="388.020" width="3.394" height="16.030" fill="#fff5b0"/><rect x="51.688" y="388.020" width="3.394" height="16.030" fill="#cce9f2"/><rect x="55.032" y="388.020" width="3.394" height="16.030" fill="#e2f4f5"/><rect x="58.376" y="388.020" width="3.394" height="16.030" fill="#d8eff6"/><rect x="61.721" y="388.020" width="3.394" height="16.030" fill="#fffebe"/><rect x="65.065" y="388.020" width="3.394" height="16.030" fill="#ddf2f7"/><rect x="68.409" y="388.020" width="3.394" height="16.030" fill="#fdb467"/><rect x="71.753" y="388.020" width="3.394" height="16.030" fill="#fffab8"/><rect x="75.097" y="388.020" width="3.394" height="16.030" fill="#cce9f2"/><rect x="78.441" y="388.020" width="3.394" height="16.030" fill="#ebf7e4"/><rect x="81.785" y="388.020" width="3.394" height="16.030" fill="#ebf7e4"/><rect x="85.129" y="388.020" width="3.394" height="16.030" fill="#fcfec5"/><rect x="88.474" y="388.020" width="3.394" height="16.030" fill="#fffebe"/><rect x="91.818" y="388.020" width="3.394" height="16.030" fill="#f3fad6"/><rect x="95.162" y="388.020" width="3.394" height="16.030" fill="#fffebe"/><rect x="98.506" y="388.020" width="3.394" height="16.030" fill="#d8eff6"/><rect x="101.850" y="388.020" width="3.394" height="16.030" fill="#eef8de"/><rect x="105.194" y="388.020" width="3.394" height="16.030" fill="#fcfec5"/><rect x="108.538" y="388.020" width="3.394" height="16.030" fill="#cce9f2"/><rect x="111.882" y="388.020" width="3.394" height="16.030" fill="#f3fad6"/><rect x="115.226" y="388.020" width="3.394" height="16.030" fill="#cce9f2"/><rect x="118.571" y="388.020" width="3.394" height="16.030" fill="#fffebe"/><rect x="121.915" y="388.020" width="3.394" height="16.030" fill="#ddf2f7"/><rect x="125.259" y="388.020" width="3.394" height="16.030" fill="#fffab8"/><rect x="128.603" y="388.020" width="3.394" height="16.030" fill="#fee79a"/><rect x="131.947" y="388.020" width="3.394" height="16.030" fill="#fff5b0"/><rect x="135.291" y="388.020" width="3.394" height="16.030" fill="#c6e6f1"/><rect x="138.635" y="388.020" width="3.394" height="16.030" fill="#fffebe"/><rect x="141.979" y="388.020" width="3.394" height="16.030" fill="#fffebe"/><rect x="145.324" y="388.020" width="3.394" height="16.030" fill="#fff5b0"/><rect x="148.668" y="388.020" width="3.394" height="16.030" fill="#f3fad6"/><rect x="152.012" y="388.020" width="3.394" height="16.030" fill="#fffebe"/><rect x="155.356" y="388.020" width="3.394" height="16.030" fill="#fcfec5"/><rect x="158.700" y="388.020" width="3.394" height="16.030" fill="#fff5b0"/><rect x="162.044" y="388.020" width="3.394" height="16.030" fill="#cce9f2"/><rect x="165.388" y="388.020" width="3.394" height="16.030" fill="#fcfec5"/><rect x="168.732" y="388.020" width="3.394" height="16.030" fill="#d2ecf4"/><rect x="172.076" y="388.020" width="3.394" height="16.030" fill="#fffab8"/><rect x="175.421" y="388.020" width="3.394" height="16.030" fill="#d2ecf4"/><rect x="178.765" y="388.020" width="3.394" height="16.030" fill="#fffebe"/><rect x="182.109" y="388.020" width="3.394" height="16.030" fill="#d2ecf4"/><rect x="185.453" y="388.020" width="3.394" height="16.030" fill="#fed182"/><rect x="188.797" y="388.020" width="3.394" height="16.030" fill="#fffab8"/><rect x="192.141" y="388.020" width="3.394" height="16.030" fill="#cce9f2"/><rect x="195.485" y="388.020" width="3.394" height="16.030" fill="#cce9f2"/><rect x="198.829" y="388.020" width="3.394" height="16.030" fill="#f99455"/><rect x="202.174" y="388.020" width="3.394" height="16.030" fill="#fecc7d"/><rect x="205.518" y="388.020" width="3.394" height="16.030" fill="#fdc072"/><rect x="208.862" y="388.020" width="3.394" height="16.030" fill="#fff5b0"/><rect x="212.206" y="388.020" width="3.394" height="16.030" fill="#cce9f2"/><rect x="215.550" y="388.020" width="3.394" height="16.030" fill="#fee292"/><rect x="218.894" y="388.020" width="3.394" height="16.030" fill="#fed788"/><rect x="222.238" y="388.020" width="3.394" height="16.030" fill="#f98e52"/><rect x="225.582" y="388.020" width="3.394" height="16.030" fill="#fee292"/><rect x="228.926" y="388.020" width="3.394" height="16.030" fill="#fed182"/><rect x="232.271" y="388.020" width="3.394" height="16.030" fill="#fffab8"/><rect x="235.615" y="388.020" width="3.394" height="16.030" fill="#fecc7d"/><rect x="238.959" y="388.020" width="3.394" height="16.030" fill="#fee292"/><rect x="242.303" y="388.020" width="3.394" height="16.030" fill="#fffab8"/><rect x="245.647" y="388.020" width="3.394" height="16.030" fill="#fedd8d"/><rect x="248.991" y="388.020" width="3.394" height="16.030" fill="#fdb467"/><rect x="252.335" y="388.020" width="3.394" height="16.030" fill="#fee79a"/><rect x="255.679" y="388.020" width="3.394" height="16.030" fill="#fffebe"/><rect x="259.024" y="388.020" width="3.394" height="16.030" fill="#fed182"/><rect x="262.368" y="388.020" width="3.394" height="16.030" fill="#fee292"/><rect x="265.712" y="388.020" width="3.394" height="16.030" fill="#fff0a9"/><rect x="269.056" y="388.020" width="3.394" height="16.030" fill="#d2ecf4"/><rect x="45.000" y="404.000" width="3.394" height="16.030" fill="#fee79a"/><rect x="48.344" y="404.000" width="3.394" height="16.030" fill="#feeba1"/><rect x="51.688" y="404.000" width="3.394" height="16.030" fill="#fffab8"/><rect x="55.032" y="404.000" width="3.394" height="16.030" fill="#fee292"/><rect x="58.376" y="404.000" width="3.394" height="16.030" fill="#fff0a9"/><rect x="61.721" y="404.000" width="3.394" height="16.030" fill="#fff5b0"/><rect x="65.065" y="404.000" width="3.394" height="16.030" fill="#fff0a9"/><rect x="68.409" y="404.000" width="3.394" height="16.030" fill="#fffab8"/><rect x="71.753" y="404.000" width="3.394" height="16.030" fill="#fff0a9"/><rect x="75.097" y="404.000" width="3.394" height="16.030" fill="#fff5b0"/><rect x="78.441" y="404.000" width="3.394" height="16.030" fill="#fffab8"/><rect x="81.785" y="404.000" width="3.394" height="16.030" fill="#fff5b0"/><rect x="85.129" y="404.000" width="3.394" height="16.030" fill="#fffab8"/><rect x="88.474" y="404.000" width="3.394" height="16.030" fill="#fff5b0"/><rect x="91.818" y="404.000" width="3.394" height="16.030" fill="#fffebe"/><rect x="95.162" y="404.000" width="3.394" height="16.030" fill="#fed788"/><rect x="98.506" y="404.000" width="3.394" height="16.030" fill="#feeba1"/><rect x="101.850" y="404.000" width="3.394" height="16.030" fill="#fff5b0"/><rect x="105.194" y="404.000" width="3.394" height="16.030" fill="#feeba1"/><rect x="108.538" y="404.000" width="3.394" height="16.030" fill="#fff0a9"/><rect x="111.882" y="404.000" width="3.394" height="16.030" fill="#fee292"/><rect x="115.226" y="404.000" width="3.394" height="16.030" fill="#fdc677"/><rect x="118.571" y="404.000" width="3.394" height="16.030" fill="#fee79a"/><rect x="121.915" y="404.000" width="3.394" height="16.030" fill="#fffebe"/><rect x="125.259" y="404.000" width="3.394" height="16.030" fill="#fffebe"/><rect x="128.603" y="404.000" width="3.394" height="16.030" fill="#fee79a"/><rect x="131.947" y="404.000" width="3.394" height="16.030" fill="#fff5b0"/><rect x="135.291" y="404.000" width="3.394" height="16.030" fill="#fff0a9"/><rect x="138.635" y="404.000" width="3.394" height="16.030" fill="#fffab8"/><rect x="141.979" y="404.000" width="3.394" height="16.030" fill="#fff5b0"/><rect x="145.324" y="404.000" width="3.394" height="16.030" fill="#f3fad6"/><rect x="148.668" y="404.000" width="3.394" height="16.030" fill="#fff5b0"/><rect x="152.012" y="404.000" width="3.394" height="16.030" fill="#fffab8"/><rect x="155.356" y="404.000" width="3.394" height="16.030" fill="#fee292"/><rect x="158.700" y="404.000" width="3.394" height="16.030" fill="#fed182"/><rect x="162.044" y="404.000" width="3.394" height="16.030" fill="#feeba1"/><rect x="165.388" y="404.000" width="3.394" height="16.030" fill="#fff0a9"/><rect x="168.732" y="404.000" width="3.394" height="16.030" fill="#fff0a9"/><rect x="172.076" y="404.000" width="3.394" height="16.030" fill="#fff5b0"/><rect x="175.421" y="404.000" width="3.394" height="16.030" fill="#fff5b0"/><rect x="178.765" y="404.000" width="3.394" height="16.030" fill="#fff0a9"/><rect x="182.109" y="404.000" width="3.394" height="16.030" fill="#fedd8d"/><rect x="185.453" y="404.000" width="3.394" height="16.030" fill="#fff5b0"/><rect x="188.797" y="404.000" width="3.394" height="16.030" fill="#fedd8d"/><rect x="192.141" y="404.000" width="3.394" height="16.030" fill="#ddf2f7"/><rect x="195.485" y="404.000" width="3.394" height="16.030" fill="#fff5b0"/><rect x="198.829" y="404.000" width="3.394" height="16.030" fill="#a0d0e4"/><rect x="202.174" y="404.000" width="3.394" height="16.030" fill="#e2f4f5"/><rect x="205.518" y="404.000" width="3.394" height="16.030" fill="#eef8de"/><rect x="208.862" y="404.000" width="3.394" height="16.030" fill="#eef8de"/><rect x="212.206" y="404.000" width="3.394" height="16.030" fill="#e8f6ea"/><rect x="215.550" y="404.000" width="3.394" height="16.030" fill="#eef8de"/><rect x="218.894" y="404.000" width="3.394" height="16.030" fill="#d8eff6"/><rect x="222.238" y="404.000" width="3.394" height="16.030" fill="#eef8de"/><rect x="225.582" y="404.000" width="3.394" height="16.030" fill="#fffab8"/><rect x="228.926" y="404.000" width="3.394" height="16.030" fill="#fffab8"/><rect x="232.271" y="404.000" width="3.394" height="16.030" fill="#d8eff6"/><rect x="235.615" y="404.000" width="3.394" height="16.030" fill="#e8f6ea"/><rect x="238.959" y="404.000" width="3.394" height="16.030" fill="#fffebe"/><rect x="242.303" y="404.000" width="3.394" height="16.030" fill="#eef8de"/><rect x="245.647" y="404.000" width="3.394" height="16.030" fill="#d2ecf4"/><rect x="248.991" y="404.000" width="3.394" height="16.030" fill="#f3fad6"/><rect x="252.335" y="404.000" width="3.394" height="16.030" fill="#b0dcea"/><rect x="255.679" y="404.000" width="3.394" height="16.030" fill="#5588be"/><rect x="259.024" y="404.000" width="3.394" height="16.030" fill="#b6deec"/><rect x="262.368" y="404.000" width="3.394" height="16.030" fill="#d8eff6"/><rect x="265.712" y="404.000" width="3.394" height="16.030" fill="#e5f5ef"/><rect x="269.056" y="404.000" width="3.394" height="16.030" fill="#81b8d7"/><rect x="45.000" y="419.980" width="3.394" height="16.030" fill="#fff5b0"/><rect x="48.344" y="419.980" width="3.394" height="16.030" fill="#fff0a9"/><rect x="51.688" y="419.980" width="3.394" height="16.030" fill="#fffebe"/><rect x="55.032" y="419.980" width="3.394" height="16.030" fill="#fffab8"/><rect x="58.376" y="419.980" width="3.394" height="16.030" fill="#fffab8"/><rect x="61.721" y="419.980" width="3.394" height="16.030" fill="#f7fccd"/><rect x="65.065" y="419.980" width="3.394" height="16.030" fill="#fffebe"/><rect x="68.409" y="419.980" width="3.394" height="16.030" fill="#f3fad6"/><rect x="71.753" y="419.980" width="3.394" height="16.030" fill="#f3fad6"/><rect x="75.097" y="419.980" width="3.394" height="16.030" fill="#fffebe"/><rect x="78.441" y="419.980" width="3.394" height="16.030" fill="#fdb467"/><rect x="81.785" y="419.980" width="3.394" height="16.030" fill="#fed182"/><rect x="85.129" y="419.980" width="3.394" height="16.030" fill="#fecc7d"/><rect x="88.474" y="419.980" width="3.394" height="16.030" fill="#fee292"/><rect x="91.818" y="419.980" width="3.394" height="16.030" fill="#f7fccd"/><rect x="95.162" y="419.980" width="3.394" height="16.030" fill="#fffebe"/><rect x="98.506" y="419.980" width="3.394" height="16.030" fill="#fffab8"/><rect x="101.850" y="419.980" width="3.394" height="16.030" fill="#fffab8"/><rect x="105.194" y="419.980" width="3.394" height="16.030" fill="#fff0a9"/><rect x="108.538" y="419.980" width="3.394" height="16.030" fill="#fffab8"/><rect x="111.882" y="419.980" width="3.394" height="16.030" fill="#f7fccd"/><rect x="115.226" y="419.980" width="3.394" height="16.030" fill="#fff0a9"/><rect x="118.571" y="419.980" width="3.394" height="16.030" fill="#fffab8"/><rect x="121.915" y="419.980" width="3.394" height="16.030" fill="#fff5b0"/><rect x="125.259" y="419.980" width="3.394" height="16.030" fill="#fffab8"/><rect x="128.603" y="419.980" width="3.394" height="16.030" fill="#fffebe"/><rect x="131.947" y="419.980" width="3.394" height="16.030" fill="#fffab8"/><rect x="135.291" y="419.980" width="3.394" height="16.030" fill="#fff0a9"/><rect x="138.635" y="419.980" width="3.394" height="16.030" fill="#fffab8"/><rect x="141.979" y="419.980" width="3.394" height="16.030" fill="#fffab8"/><rect x="145.324" y="419.980" width="3.394" height="16.030" fill="#fed182"/><rect x="148.668" y="419.980" width="3.394" height="16.030" fill="#fffab8"/><rect x="152.012" y="419.980" width="3.394" height="16.030" fill="#fffab8"/><rect x="155.356" y="419.980" width="3.394" height="16.030" fill="#fffebe"/><rect x="158.700" y="419.980" width="3.394" height="16.030" fill="#fffebe"/><rect x="162.044" y="419.980" width="3.394" height="16.030" fill="#fff0a9"/><rect x="165.388" y="419.980" width="3.394" height="16.030" fill="#fffebe"/><rect x="168.732" y="419.980" width="3.394" height="16.030" fill="#fffab8"/><rect x="172.076" y="419.980" width="3.394" height="16.030" fill="#fff0a9"/><rect x="175.421" y="419.980" width="3.394" height="16.030" fill="#fee79a"/><rect x="178.765" y="419.980" width="3.394" height="16.030" fill="#fffab8"/><rect x="182.109" y="419.980" width="3.394" height="16.030" fill="#fffebe"/><rect x="185.453" y="419.980" width="3.394" height="16.030" fill="#fffebe"/><rect x="188.797" y="419.980" width="3.394" height="16.030" fill="#f3fad6"/><rect x="192.141" y="419.980" width="3.394" height="16.030" fill="#fba15b"/><rect x="195.485" y="419.980" width="3.394" height="16.030" fill="#f7fccd"/><rect x="198.829" y="419.980" width="3.394" height="16.030" fill="#a6d5e7"/><rect x="202.174" y="419.980" width="3.394" height="16.030" fill="#ddf2f7"/><rect x="205.518" y="419.980" width="3.394" height="16.030" fill="#a6d5e7"/><rect x="208.862" y="419.980" width="3.394" height="16.030" fill="#f3fad6"/><rect x="212.206" y="419.980" width="3.394" height="16.030" fill="#fffebe"/><rect x="215.550" y="419.980" width="3.394" height="16.030" fill="#fffab8"/><rect x="218.894" y="419.980" width="3.394" height="16.030" fill="#ddf2f7"/><rect x="222.238" y="419.980" width="3.394" height="16.030" fill="#fffebe"/><rect x="225.582" y="419.980" width="3.394" height="16.030" fill="#e2f4f5"/><rect x="228.926" y="419.980" width="3.394" height="16.030" fill="#fff5b0"/><rect x="232.271" y="419.980" width="3.394" height="16.030" fill="#fff5b0"/><rect x="235.615" y="419.980" width="3.394" height="16.030" fill="#eef8de"/><rect x="238.959" y="419.980" width="3.394" height="16.030" fill="#eef8de"/><rect x="242.303" y="419.980" width="3.394" height="16.030" fill="#feeba1"/><rect x="245.647" y="419.980" width="3.394" height="16.030" fill="#fcfec5"/><rect x="248.991" y="419.980" width="3.394" height="16.030" fill="#fee79a"/><rect x="252.335" y="419.980" width="3.394" height="16.030" fill="#313695"/><rect x="255.679" y="419.980" width="3.394" height="16.030" fill="#eef8de"/><rect x="259.024" y="419.980" width="3.394" height="16.030" fill="#8abfdb"/><rect x="262.368" y="419.980" width="3.394" height="16.030" fill="#fffab8"/><rect x="265.712" y="419.980" width="3.394" height="16.030" fill="#fff5b0"/><rect x="269.056" y="419.980" width="3.394" height="16.030" fill="#eef8de"/><path d="M45.000 233.8V241.8M48.344 233.8V241.8M51.688 233.8V241.8M55.032 233.8V241.8M58.376 233.8V241.8M61.721 233.8V241.8M65.065 233.8V241.8M68.409 233.8V241.8M71.753 233.8V241.8M75.097 233.8V241.8M78.441 233.8V241.8M81.785 233.8V241.8M85.129 233.8V241.8M88.474 233.8V241.8M91.818 233.8V241.8M95.162 233.8V241.8M98.506 233.8V241.8M101.850 233.8V241.8M105.194 233.8V241.8M108.538 233.8V241.8M111.882 233.8V241.8M115.226 233.8V241.8M118.571 233.8V241.8M121.915 233.8V241.8M125.259 233.8V241.8M128.603 233.8V241.8M131.947 233.8V241.8M135.291 233.8V241.8M138.635 233.8V241.8M141.979 233.8V241.8M145.324 233.8V241.8M148.668 233.8V241.8M152.012 233.8V241.8M155.356 233.8V241.8M158.700 233.8V241.8M162.044 233.8V241.8M165.388 233.8V241.8M168.732 233.8V241.8M172.076 233.8V241.8M175.421 233.8V241.8M178.765 233.8V241.8M182.109 233.8V241.8M185.453 233.8V241.8M188.797 233.8V241.8M192.141 233.8V241.8M195.485 233.8V241.8M198.829 233.8V241.8M202.174 233.8V241.8M205.518 233.8V241.8M208.862 233.8V241.8M212.206 233.8V241.8M215.550 233.8V241.8M218.894 233.8V241.8M222.238 233.8V241.8M225.582 233.8V241.8M228.926 233.8V241.8M232.271 233.8V241.8M235.615 233.8V241.8M238.959 233.8V241.8M242.303 233.8V241.8M245.647 233.8V241.8M248.991 233.8V241.8M252.335 233.8V241.8M255.679 233.8V241.8M259.024 233.8V241.8M262.368 233.8V241.8M265.712 233.8V241.8M269.056 233.8V241.8M272.400 233.8V241.8M45.0 233.8H272.4M45.0 241.8H272.4" stroke="#8a8a8a" stroke-opacity="0.55" stroke-width="0.7" fill="none"/><path d="M45.000 244.20V435.96M48.344 244.20V435.96M51.688 244.20V435.96M55.032 244.20V435.96M58.376 244.20V435.96M61.721 244.20V435.96M65.065 244.20V435.96M68.409 244.20V435.96M71.753 244.20V435.96M75.097 244.20V435.96M78.441 244.20V435.96M81.785 244.20V435.96M85.129 244.20V435.96M88.474 244.20V435.96M91.818 244.20V435.96M95.162 244.20V435.96M98.506 244.20V435.96M101.850 244.20V435.96M105.194 244.20V435.96M108.538 244.20V435.96M111.882 244.20V435.96M115.226 244.20V435.96M118.571 244.20V435.96M121.915 244.20V435.96M125.259 244.20V435.96M128.603 244.20V435.96M131.947 244.20V435.96M135.291 244.20V435.96M138.635 244.20V435.96M141.979 244.20V435.96M145.324 244.20V435.96M148.668 244.20V435.96M152.012 244.20V435.96M155.356 244.20V435.96M158.700 244.20V435.96M162.044 244.20V435.96M165.388 244.20V435.96M168.732 244.20V435.96M172.076 244.20V435.96M175.421 244.20V435.96M178.765 244.20V435.96M182.109 244.20V435.96M185.453 244.20V435.96M188.797 244.20V435.96M192.141 244.20V435.96M195.485 244.20V435.96M198.829 244.20V435.96M202.174 244.20V435.96M205.518 244.20V435.96M208.862 244.20V435.96M212.206 244.20V435.96M215.550 244.20V435.96M218.894 244.20V435.96M222.238 244.20V435.96M225.582 244.20V435.96M228.926 244.20V435.96M232.271 244.20V435.96M235.615 244.20V435.96M238.959 244.20V435.96M242.303 244.20V435.96M245.647 244.20V435.96M248.991 244.20V435.96M252.335 244.20V435.96M255.679 244.20V435.96M259.024 244.20V435.96M262.368 244.20V435.96M265.712 244.20V435.96M269.056 244.20V435.96M272.400 244.20V435.96M45.0 244.200H272.4M45.0 260.180H272.4M45.0 276.160H272.4M45.0 292.140H272.4M45.0 308.120H272.4M45.0 324.100H272.4M45.0 340.080H272.4M45.0 356.060H272.4M45.0 372.040H272.4M45.0 388.020H272.4M45.0 404.000H272.4M45.0 419.980H272.4M45.0 435.960H272.4" stroke="#a6a6a6" stroke-width="0.7" fill="none"/><text x="49.20" y="227.90" font-size="9.4" fill="#1a1a1a" textLength="213.00" lengthAdjust="spacing" stroke="#1a1a1a" stroke-width="0.5">Immunophenotypic differences between groups</text><text x="274.80" y="241.70" font-size="9.6" fill="#111" font-weight="bold" textLength="33.00" lengthAdjust="spacingAndGlyphs">Sample</text><text x="274.60" y="256.10" font-size="9.1" fill="#333" textLength="77.10" lengthAdjust="spacingAndGlyphs" stroke="#333" stroke-width="0.1">CD4+/CD45RA–/cTfh</text><text x="274.60" y="272.08" font-size="9.1" fill="#333" textLength="126.10" lengthAdjust="spacingAndGlyphs" stroke="#333" stroke-width="0.1">CD4+/CD45RA–/HLA-DR+CXCR5+</text><text x="274.60" y="288.06" font-size="9.1" fill="#333" textLength="117.50" lengthAdjust="spacingAndGlyphs" stroke="#333" stroke-width="0.1">CD4+/CD45RA–/Tim-3+CXCR5+</text><text x="274.60" y="304.04" font-size="9.1" fill="#333" textLength="97.90" lengthAdjust="spacingAndGlyphs" stroke="#333" stroke-width="0.1">CD4+/EM/HLA-DR+CD38+</text><text x="274.60" y="320.02" font-size="9.1" fill="#333" textLength="89.20" lengthAdjust="spacingAndGlyphs" stroke="#333" stroke-width="0.1">CD4+/EM/PD–1+TIM-3+</text><text x="274.60" y="336.00" font-size="9.1" fill="#333" textLength="101.90" lengthAdjust="spacingAndGlyphs" stroke="#333" stroke-width="0.1">CD4+/Naive/PD–1+CXCR5+</text><text x="274.60" y="351.98" font-size="9.1" fill="#333" textLength="108.10" lengthAdjust="spacingAndGlyphs" stroke="#333" stroke-width="0.1">CD4+/TEMRA/PD–1+CXCR5+</text><text x="274.60" y="367.96" font-size="9.1" fill="#333" textLength="91.10" lengthAdjust="spacingAndGlyphs" stroke="#333" stroke-width="0.1">CD8+/CD45RA–/cTfh like</text><text x="274.60" y="383.94" font-size="9.1" fill="#333" textLength="99.20" lengthAdjust="spacingAndGlyphs" stroke="#333" stroke-width="0.1">CD8+/EM/HLA–DR+CD38+</text><text x="274.60" y="399.92" font-size="9.1" fill="#333" textLength="90.00" lengthAdjust="spacingAndGlyphs" stroke="#333" stroke-width="0.1">CD8+/EM/PD–1+TIM–3+</text><text x="274.60" y="415.90" font-size="9.1" fill="#333" textLength="21.90" lengthAdjust="spacingAndGlyphs" stroke="#333" stroke-width="0.1">CSMB</text><text x="274.60" y="431.88" font-size="9.1" fill="#333" textLength="43.50" lengthAdjust="spacingAndGlyphs" stroke="#333" stroke-width="0.1">CD4+ Naïve</text><defs><linearGradient id="cb" x1="0" y1="1" x2="0" y2="0"><stop offset="0.00" stop-color="#313695"/><stop offset="0.10" stop-color="#4575b4"/><stop offset="0.20" stop-color="#74add1"/><stop offset="0.30" stop-color="#abd9e9"/><stop offset="0.40" stop-color="#e0f3f8"/><stop offset="0.50" stop-color="#ffffbf"/><stop offset="0.60" stop-color="#fee090"/><stop offset="0.70" stop-color="#fdae61"/><stop offset="0.80" stop-color="#f46d43"/><stop offset="0.90" stop-color="#d73027"/><stop offset="1.00" stop-color="#a50026"/></linearGradient></defs><rect x="410" y="233.3" width="8" height="122.5" fill="url(#cb)"/><text x="421.30" y="248.00" font-size="8.3" fill="#3a3a3a" stroke="#3a3a3a" stroke-width="0.06">4</text><text x="421.30" y="272.60" font-size="8.3" fill="#3a3a3a" stroke="#3a3a3a" stroke-width="0.06">2</text><text x="421.30" y="296.80" font-size="8.3" fill="#3a3a3a" stroke="#3a3a3a" stroke-width="0.06">0</text><text x="421.30" y="322.20" font-size="8.3" fill="#3a3a3a" stroke="#3a3a3a" stroke-width="0.06">−2</text><text x="421.30" y="346.80" font-size="8.3" fill="#3a3a3a" stroke="#3a3a3a" stroke-width="0.06">−4</text><text x="429.70" y="239.10" font-size="9.2" fill="#111" font-weight="bold" textLength="32.10" lengthAdjust="spacingAndGlyphs">Sample</text><rect x="433.6" y="241.50" width="11.5" height="11.7" fill="#80a9df" stroke="#9e9e9e" stroke-width="0.7"/><text x="446.60" y="250.50" font-size="8.6" fill="#3a3a3a" textLength="15.70" lengthAdjust="spacingAndGlyphs" stroke="#3a3a3a" stroke-width="0.1">cITP</text><rect x="433.6" y="253.20" width="11.5" height="11.7" fill="#3cb44b" stroke="#9e9e9e" stroke-width="0.7"/><text x="446.60" y="262.20" font-size="8.6" fill="#3a3a3a" textLength="10.50" lengthAdjust="spacingAndGlyphs" stroke="#3a3a3a" stroke-width="0.1">HC</text><rect x="433.6" y="264.90" width="11.5" height="11.7" fill="#f08a84" stroke="#9e9e9e" stroke-width="0.7"/><text x="446.60" y="273.90" font-size="8.6" fill="#3a3a3a" textLength="14.00" lengthAdjust="spacingAndGlyphs" stroke="#3a3a3a" stroke-width="0.1">pES</text><path d="M35.90 567.60L113.10 490.40" stroke="#f6c9c9" stroke-width="0.7"/><path d="M33.90 490.40V569.60H113.10" fill="none" stroke="#222" stroke-width="1.2"/><path d="M31.30 569.60H33.90" stroke="#222" stroke-width="0.9"/><text x="28.00" y="572.50" font-size="8.2" fill="#333" text-anchor="end" textLength="4.10" lengthAdjust="spacingAndGlyphs" stroke="#333" stroke-width="0.22">0</text><path d="M33.90 569.60V572.40" stroke="#222" stroke-width="0.9"/><text x="34.80" y="581.10" font-size="8.3" fill="#333" text-anchor="middle" textLength="4.10" lengthAdjust="spacingAndGlyphs" stroke="#333" stroke-width="0.22">0</text><path d="M31.30 553.76H33.90" stroke="#222" stroke-width="0.9"/><text x="28.00" y="556.66" font-size="8.2" fill="#333" text-anchor="end" textLength="8.20" lengthAdjust="spacingAndGlyphs" stroke="#333" stroke-width="0.22">20</text><path d="M49.74 569.60V572.40" stroke="#222" stroke-width="0.9"/><text x="49.74" y="581.10" font-size="8.3" fill="#333" text-anchor="middle" textLength="8.20" lengthAdjust="spacingAndGlyphs" stroke="#333" stroke-width="0.22">20</text><path d="M31.30 537.92H33.90" stroke="#222" stroke-width="0.9"/><text x="28.00" y="540.82" font-size="8.2" fill="#333" text-anchor="end" textLength="8.20" lengthAdjust="spacingAndGlyphs" stroke="#333" stroke-width="0.22">40</text><path d="M65.58 569.60V572.40" stroke="#222" stroke-width="0.9"/><text x="65.58" y="581.10" font-size="8.3" fill="#333" text-anchor="middle" textLength="8.20" lengthAdjust="spacingAndGlyphs" stroke="#333" stroke-width="0.22">40</text><path d="M31.30 522.08H33.90" stroke="#222" stroke-width="0.9"/><text x="28.00" y="524.98" font-size="8.2" fill="#333" text-anchor="end" textLength="8.20" lengthAdjust="spacingAndGlyphs" stroke="#333" stroke-width="0.22">60</text><path d="M81.42 569.60V572.40" stroke="#222" stroke-width="0.9"/><text x="81.42" y="581.10" font-size="8.3" fill="#333" text-anchor="middle" textLength="8.20" lengthAdjust="spacingAndGlyphs" stroke="#333" stroke-width="0.22">60</text><path d="M31.30 506.24H33.90" stroke="#222" stroke-width="0.9"/><text x="28.00" y="509.14" font-size="8.2" fill="#333" text-anchor="end" textLength="8.20" lengthAdjust="spacingAndGlyphs" stroke="#333" stroke-width="0.22">80</text><path d="M97.26 569.60V572.40" stroke="#222" stroke-width="0.9"/><text x="97.26" y="581.10" font-size="8.3" fill="#333" text-anchor="middle" textLength="8.20" lengthAdjust="spacingAndGlyphs" stroke="#333" stroke-width="0.22">80</text><path d="M31.30 490.40H33.90" stroke="#222" stroke-width="0.9"/><text x="28.00" y="493.30" font-size="8.2" fill="#333" text-anchor="end" textLength="12.30" lengthAdjust="spacingAndGlyphs" stroke="#333" stroke-width="0.22">100</text><path d="M113.10 569.60V572.40" stroke="#222" stroke-width="0.9"/><text x="113.10" y="581.10" font-size="8.3" fill="#333" text-anchor="middle" textLength="12.30" lengthAdjust="spacingAndGlyphs" stroke="#333" stroke-width="0.22">100</text><g fill="#e0061f" stroke="#2a0505" stroke-width="0.55"><circle cx="33.90" cy="569.60" r="1.7"/><circle cx="33.90" cy="566.16" r="1.7"/><circle cx="33.90" cy="562.71" r="1.7"/><circle cx="33.90" cy="559.27" r="1.7"/><circle cx="33.90" cy="555.83" r="1.7"/><circle cx="33.90" cy="552.38" r="1.7"/><circle cx="33.90" cy="548.94" r="1.7"/><circle cx="33.90" cy="545.50" r="1.7"/><circle cx="33.90" cy="542.05" r="1.7"/><circle cx="33.90" cy="538.61" r="1.7"/><circle cx="33.90" cy="535.17" r="1.7"/><circle cx="33.90" cy="531.72" r="1.7"/><circle cx="33.90" cy="528.28" r="1.7"/><circle cx="33.90" cy="524.83" r="1.7"/><circle cx="33.90" cy="521.39" r="1.7"/><circle cx="33.90" cy="517.95" r="1.7"/><circle cx="33.90" cy="514.50" r="1.7"/><circle cx="33.90" cy="511.06" r="1.7"/><circle cx="33.90" cy="507.62" r="1.7"/><circle cx="33.90" cy="504.17" r="1.7"/><circle cx="33.90" cy="500.73" r="1.7"/><circle cx="33.90" cy="497.29" r="1.7"/><circle cx="33.90" cy="493.84" r="1.7"/><circle cx="33.90" cy="490.40" r="1.7"/><circle cx="37.67" cy="490.40" r="1.7"/><circle cx="41.44" cy="490.40" r="1.7"/><circle cx="45.21" cy="490.40" r="1.7"/><circle cx="48.99" cy="490.40" r="1.7"/><circle cx="52.76" cy="490.40" r="1.7"/><circle cx="56.53" cy="490.40" r="1.7"/><circle cx="60.30" cy="490.40" r="1.7"/><circle cx="64.07" cy="490.40" r="1.7"/><circle cx="67.84" cy="490.40" r="1.7"/><circle cx="71.61" cy="490.40" r="1.7"/><circle cx="75.39" cy="490.40" r="1.7"/><circle cx="79.16" cy="490.40" r="1.7"/><circle cx="82.93" cy="490.40" r="1.7"/><circle cx="86.70" cy="490.40" r="1.7"/><circle cx="90.47" cy="490.40" r="1.7"/><circle cx="94.24" cy="490.40" r="1.7"/><circle cx="98.01" cy="490.40" r="1.7"/><circle cx="101.79" cy="490.40" r="1.7"/><circle cx="105.56" cy="490.40" r="1.7"/><circle cx="109.33" cy="490.40" r="1.7"/><circle cx="113.10" cy="490.40" r="1.7"/></g><text x="45.40" y="480.90" font-size="8.6" fill="#333" textLength="66.00" lengthAdjust="spacingAndGlyphs" stroke="#333" stroke-width="0.22">cTfh (pES vs cITP)</text><text x="47.10" y="515.60" font-size="6.2" fill="#444" textLength="33.10" lengthAdjust="spacingAndGlyphs" stroke="#444" stroke-width="0.22">AUC = 1.00</text><text x="65.80" y="547.80" font-size="6.0" fill="#444" textLength="34.30" lengthAdjust="spacingAndGlyphs" stroke="#444" stroke-width="0.22">Value &gt; 7.97</text><text x="59.60" y="555.60" font-size="6.0" fill="#444" textLength="47.10" lengthAdjust="spacingAndGlyphs" stroke="#444" stroke-width="0.22">(100% Sensitivity</text><text x="60.40" y="563.20" font-size="6.0" fill="#444" textLength="46.60" lengthAdjust="spacingAndGlyphs" stroke="#444" stroke-width="0.22">100% Specificity)</text><text x="42.40" y="593.60" font-size="9.4" fill="#333" textLength="63.60" lengthAdjust="spacingAndGlyphs" stroke="#333" stroke-width="0.22">100% - Specificity%</text><text x="14.30" y="549.30" font-size="9.6" fill="#333" textLength="39.60" lengthAdjust="spacingAndGlyphs" stroke="#333" stroke-width="0.22" transform="rotate(-90 14.30 549.30)">Sensitivity%</text><path d="M150.30 567.50L229.90 488.00" stroke="#f6c9c9" stroke-width="0.7"/><path d="M148.30 488.00V569.50H229.90" fill="none" stroke="#222" stroke-width="1.2"/><path d="M145.70 569.50H148.30" stroke="#222" stroke-width="0.9"/><text x="142.40" y="572.40" font-size="8.2" fill="#333" text-anchor="end" textLength="4.10" lengthAdjust="spacingAndGlyphs" stroke="#333" stroke-width="0.22">0</text><path d="M148.30 569.50V572.30" stroke="#222" stroke-width="0.9"/><text x="149.20" y="581.00" font-size="8.3" fill="#333" text-anchor="middle" textLength="4.10" lengthAdjust="spacingAndGlyphs" stroke="#333" stroke-width="0.22">0</text><path d="M145.70 553.20H148.30" stroke="#222" stroke-width="0.9"/><text x="142.40" y="556.10" font-size="8.2" fill="#333" text-anchor="end" textLength="8.20" lengthAdjust="spacingAndGlyphs" stroke="#333" stroke-width="0.22">20</text><path d="M164.62 569.50V572.30" stroke="#222" stroke-width="0.9"/><text x="164.62" y="581.00" font-size="8.3" fill="#333" text-anchor="middle" textLength="8.20" lengthAdjust="spacingAndGlyphs" stroke="#333" stroke-width="0.22">20</text><path d="M145.70 536.90H148.30" stroke="#222" stroke-width="0.9"/><text x="142.40" y="539.80" font-size="8.2" fill="#333" text-anchor="end" textLength="8.20" lengthAdjust="spacingAndGlyphs" stroke="#333" stroke-width="0.22">40</text><path d="M180.94 569.50V572.30" stroke="#222" stroke-width="0.9"/><text x="180.94" y="581.00" font-size="8.3" fill="#333" text-anchor="middle" textLength="8.20" lengthAdjust="spacingAndGlyphs" stroke="#333" stroke-width="0.22">40</text><path d="M145.70 520.60H148.30" stroke="#222" stroke-width="0.9"/><text x="142.40" y="523.50" font-size="8.2" fill="#333" text-anchor="end" textLength="8.20" lengthAdjust="spacingAndGlyphs" stroke="#333" stroke-width="0.22">60</text><path d="M197.26 569.50V572.30" stroke="#222" stroke-width="0.9"/><text x="197.26" y="581.00" font-size="8.3" fill="#333" text-anchor="middle" textLength="8.20" lengthAdjust="spacingAndGlyphs" stroke="#333" stroke-width="0.22">60</text><path d="M145.70 504.30H148.30" stroke="#222" stroke-width="0.9"/><text x="142.40" y="507.20" font-size="8.2" fill="#333" text-anchor="end" textLength="8.20" lengthAdjust="spacingAndGlyphs" stroke="#333" stroke-width="0.22">80</text><path d="M213.58 569.50V572.30" stroke="#222" stroke-width="0.9"/><text x="213.58" y="581.00" font-size="8.3" fill="#333" text-anchor="middle" textLength="8.20" lengthAdjust="spacingAndGlyphs" stroke="#333" stroke-width="0.22">80</text><path d="M145.70 488.00H148.30" stroke="#222" stroke-width="0.9"/><text x="142.40" y="490.90" font-size="8.2" fill="#333" text-anchor="end" textLength="12.30" lengthAdjust="spacingAndGlyphs" stroke="#333" stroke-width="0.22">100</text><path d="M229.90 569.50V572.30" stroke="#222" stroke-width="0.9"/><text x="229.90" y="581.00" font-size="8.3" fill="#333" text-anchor="middle" textLength="12.30" lengthAdjust="spacingAndGlyphs" stroke="#333" stroke-width="0.22">100</text><g fill="#e0061f" stroke="#2a0505" stroke-width="0.55"><circle cx="148.30" cy="569.50" r="1.7"/><circle cx="148.30" cy="565.80" r="1.7"/><circle cx="152.01" cy="565.80" r="1.7"/><circle cx="152.01" cy="562.09" r="1.7"/><circle cx="152.01" cy="558.39" r="1.7"/><circle cx="152.01" cy="554.68" r="1.7"/><circle cx="152.01" cy="550.98" r="1.7"/><circle cx="152.01" cy="547.27" r="1.7"/><circle cx="152.01" cy="543.57" r="1.7"/><circle cx="152.01" cy="539.86" r="1.7"/><circle cx="152.01" cy="536.16" r="1.7"/><circle cx="152.01" cy="532.45" r="1.7"/><circle cx="152.01" cy="528.75" r="1.7"/><circle cx="152.01" cy="525.05" r="1.7"/><circle cx="152.01" cy="521.34" r="1.7"/><circle cx="152.01" cy="517.64" r="1.7"/><circle cx="152.01" cy="513.93" r="1.7"/><circle cx="155.72" cy="510.23" r="1.7"/><circle cx="155.72" cy="506.52" r="1.7"/><circle cx="155.72" cy="502.82" r="1.7"/><circle cx="155.72" cy="499.11" r="1.7"/><circle cx="159.43" cy="499.11" r="1.7"/><circle cx="163.14" cy="499.11" r="1.7"/><circle cx="166.85" cy="499.11" r="1.7"/><circle cx="170.55" cy="499.11" r="1.7"/><circle cx="170.55" cy="495.41" r="1.7"/><circle cx="174.26" cy="495.41" r="1.7"/><circle cx="174.26" cy="491.70" r="1.7"/><circle cx="177.97" cy="491.70" r="1.7"/><circle cx="181.68" cy="491.70" r="1.7"/><circle cx="185.39" cy="491.70" r="1.7"/><circle cx="189.10" cy="491.70" r="1.7"/><circle cx="192.81" cy="491.70" r="1.7"/><circle cx="196.52" cy="491.70" r="1.7"/><circle cx="200.23" cy="491.70" r="1.7"/><circle cx="203.94" cy="491.70" r="1.7"/><circle cx="207.65" cy="491.70" r="1.7"/><circle cx="211.35" cy="491.70" r="1.7"/><circle cx="215.06" cy="491.70" r="1.7"/><circle cx="218.77" cy="491.70" r="1.7"/><circle cx="222.48" cy="491.70" r="1.7"/><circle cx="226.19" cy="491.70" r="1.7"/><circle cx="226.19" cy="488.00" r="1.7"/><circle cx="229.90" cy="488.00" r="1.7"/></g><text x="136.90" y="480.70" font-size="8.5" fill="#333" textLength="105.30" lengthAdjust="spacingAndGlyphs" stroke="#333" stroke-width="0.22">CD4<tspan font-size="5.4" dy="-3.2">+</tspan><tspan dy="3.2"> activation (pES vs cITP)</tspan></text><text x="163.70" y="513.30" font-size="6.2" fill="#444" textLength="33.00" lengthAdjust="spacingAndGlyphs" stroke="#444" stroke-width="0.22">AUC = 0.88</text><text x="185.00" y="547.70" font-size="6.0" fill="#444" textLength="33.80" lengthAdjust="spacingAndGlyphs" stroke="#444" stroke-width="0.22">Value &gt; 3.25</text><text x="176.70" y="555.40" font-size="6.0" fill="#444" textLength="49.60" lengthAdjust="spacingAndGlyphs" stroke="#444" stroke-width="0.22">(86.4 % Sensitivity</text><text x="177.00" y="563.00" font-size="6.0" fill="#444" textLength="50.30" lengthAdjust="spacingAndGlyphs" stroke="#444" stroke-width="0.22">90.9 % Specificity)</text><text x="157.50" y="593.60" font-size="9.4" fill="#333" textLength="63.90" lengthAdjust="spacingAndGlyphs" stroke="#333" stroke-width="0.22">100% - Specificity%</text><text x="129.30" y="548.40" font-size="9.6" fill="#333" textLength="40.00" lengthAdjust="spacingAndGlyphs" stroke="#333" stroke-width="0.22" transform="rotate(-90 129.30 548.40)">Sensitivity%</text><rect x="252.1" y="473.0" width="52.90" height="23.9" fill="#f5b41e"/><rect x="306.6" y="473.0" width="45.30" height="23.9" fill="#f5b41e"/><rect x="353.5" y="473.0" width="45.80" height="23.9" fill="#f5b41e"/><rect x="252.1" y="499.8" width="52.90" height="13.00" fill="#fde7d0"/><rect x="306.6" y="499.8" width="45.30" height="13.00" fill="#fde7d0"/><rect x="353.5" y="499.8" width="45.80" height="13.00" fill="#fde7d0"/><rect x="252.1" y="514.4" width="52.90" height="25.20" fill="#fef3e8"/><rect x="306.6" y="514.4" width="45.30" height="25.20" fill="#fef3e8"/><rect x="353.5" y="514.4" width="45.80" height="25.20" fill="#fef3e8"/><rect x="252.1" y="541.2" width="52.90" height="18.40" fill="#fde7d0"/><rect x="306.6" y="541.2" width="45.30" height="18.40" fill="#fde7d0"/><rect x="353.5" y="541.2" width="45.80" height="18.40" fill="#fde7d0"/><rect x="252.1" y="561.2" width="52.90" height="18.40" fill="#fef3e8"/><rect x="306.6" y="561.2" width="45.30" height="18.40" fill="#fef3e8"/><rect x="353.5" y="561.2" width="45.80" height="18.40" fill="#fef3e8"/><text x="278.60" y="483.00" font-size="8.4" fill="#2a2218" text-anchor="middle" font-weight="bold" textLength="30.00" lengthAdjust="spacingAndGlyphs">Immune</text><text x="278.60" y="493.20" font-size="8.4" fill="#2a2218" text-anchor="middle" font-weight="bold" textLength="44.50" lengthAdjust="spacingAndGlyphs">parameters</text><text x="329.00" y="488.20" font-size="8.4" fill="#2a2218" text-anchor="middle" font-weight="bold" textLength="29.00" lengthAdjust="spacingAndGlyphs">Cutoffs</text><text x="376.40" y="488.20" font-size="8.4" fill="#2a2218" text-anchor="middle" font-weight="bold" textLength="22.30" lengthAdjust="spacingAndGlyphs">Score</text><text x="278.60" y="508.60" font-size="6.6" fill="#45403a" text-anchor="middle" stroke="#45403a" stroke-width="0.06">cTfh</text><text x="329.20" y="508.60" font-size="6.6" fill="#45403a" text-anchor="middle" stroke="#45403a" stroke-width="0.06">&gt;7.97*</text><text x="376.40" y="508.60" font-size="6.6" fill="#45403a" text-anchor="middle" stroke="#45403a" stroke-width="0.06">1</text><text x="278.60" y="522.50" font-size="6.6" fill="#45403a" text-anchor="middle" stroke="#45403a" stroke-width="0.06">HLA-DR<tspan font-size="4" dy="-2.5">+</tspan><tspan dy="2.5"> CD38</tspan><tspan font-size="4" dy="-2.5">+</tspan></text><text x="278.60" y="529.90" font-size="6.6" fill="#45403a" text-anchor="middle" stroke="#45403a" stroke-width="0.06">(gated on CD4<tspan font-size="4" dy="-2.5">+</tspan></text><text x="278.60" y="537.30" font-size="6.6" fill="#45403a" text-anchor="middle" stroke="#45403a" stroke-width="0.06">EM)</text><text x="329.20" y="528.60" font-size="6.6" fill="#45403a" text-anchor="middle" stroke="#45403a" stroke-width="0.06">&gt;3.25**</text><text x="376.40" y="528.60" font-size="6.6" fill="#45403a" text-anchor="middle" stroke="#45403a" stroke-width="0.06">1</text><text x="278.80" y="553.30" font-size="6.6" fill="#45403a" text-anchor="middle" stroke="#45403a" stroke-width="0.06">CD4<tspan font-size="4" dy="-2.5">+</tspan><tspan dy="2.5"> Naive</tspan></text><text x="329.20" y="549.00" font-size="6.6" fill="#45403a" text-anchor="middle" stroke="#45403a" stroke-width="0.06">&lt; Lower limit</text><text x="329.20" y="556.40" font-size="6.6" fill="#45403a" text-anchor="middle" stroke="#45403a" stroke-width="0.06">of normal<tspan font-size="4" dy="-2.5">§</tspan></text><text x="376.40" y="551.80" font-size="6.6" fill="#45403a" text-anchor="middle" stroke="#45403a" stroke-width="0.06">1</text><text x="278.60" y="572.20" font-size="6.6" fill="#45403a" text-anchor="middle" stroke="#45403a" stroke-width="0.06">CSMB</text><text x="329.20" y="568.30" font-size="6.6" fill="#45403a" text-anchor="middle" stroke="#45403a" stroke-width="0.06">&lt; Lower limit</text><text x="329.20" y="575.80" font-size="6.6" fill="#45403a" text-anchor="middle" stroke="#45403a" stroke-width="0.06">of normal<tspan font-size="4" dy="-2.5">§</tspan></text><text x="376.40" y="572.20" font-size="6.6" fill="#45403a" text-anchor="middle" stroke="#45403a" stroke-width="0.06">1</text><text x="253.60" y="590.40" font-size="6.7" fill="#333" textLength="84.40" lengthAdjust="spacingAndGlyphs" stroke="#333" stroke-width="0.1"><tspan font-size="4" dy="-2.5">*</tspan><tspan dy="2.5"> &lt;7.97 was given a score “0”</tspan></text><text x="253.60" y="598.20" font-size="6.7" fill="#333" textLength="86.20" lengthAdjust="spacingAndGlyphs" stroke="#333" stroke-width="0.1"><tspan font-size="4" dy="-2.5">**</tspan><tspan dy="2.5"> &lt;3.25 was given a score “0”</tspan></text><text x="253.60" y="606.20" font-size="6.7" fill="#333" textLength="132.90" lengthAdjust="spacingAndGlyphs" stroke="#333" stroke-width="0.1"><tspan font-size="4" dy="-2.5">§</tspan><tspan dy="2.5"> Values normal for age were given a score “0”</tspan></text><path d="M423.4 488.20V575.9H513.8" fill="none" stroke="#222" stroke-width="1.1"/><path d="M420.80 575.90H423.4" stroke="#222" stroke-width="0.9"/><text x="418.40" y="578.80" font-size="8.2" fill="#444" text-anchor="end" textLength="3.70" lengthAdjust="spacingAndGlyphs" stroke="#444" stroke-width="0.22">0</text><path d="M420.80 558.36H423.4" stroke="#222" stroke-width="0.9"/><text x="418.40" y="561.26" font-size="8.2" fill="#444" text-anchor="end" textLength="3.70" lengthAdjust="spacingAndGlyphs" stroke="#444" stroke-width="0.22">1</text><path d="M420.80 540.82H423.4" stroke="#222" stroke-width="0.9"/><text x="418.40" y="543.72" font-size="8.2" fill="#444" text-anchor="end" textLength="3.70" lengthAdjust="spacingAndGlyphs" stroke="#444" stroke-width="0.22">2</text><path d="M420.80 523.28H423.4" stroke="#222" stroke-width="0.9"/><text x="418.40" y="526.18" font-size="8.2" fill="#444" text-anchor="end" textLength="3.70" lengthAdjust="spacingAndGlyphs" stroke="#444" stroke-width="0.22">3</text><path d="M420.80 505.74H423.4" stroke="#222" stroke-width="0.9"/><text x="418.40" y="508.64" font-size="8.2" fill="#444" text-anchor="end" textLength="3.70" lengthAdjust="spacingAndGlyphs" stroke="#444" stroke-width="0.22">4</text><path d="M420.80 488.20H423.4" stroke="#222" stroke-width="0.9"/><text x="418.40" y="491.10" font-size="8.2" fill="#444" text-anchor="end" textLength="3.70" lengthAdjust="spacingAndGlyphs" stroke="#444" stroke-width="0.22">5</text><path d="M441.3 575.9V578.4" stroke="#222" stroke-width="0.9"/><path d="M468.4 575.9V578.4" stroke="#222" stroke-width="0.9"/><path d="M495.8 575.9V578.4" stroke="#222" stroke-width="0.9"/><text x="445.60" y="584.20" font-size="8.6" fill="#444" text-anchor="end" textLength="10.60" lengthAdjust="spacingAndGlyphs" stroke="#444" stroke-width="0.22" transform="rotate(-45 445.60 584.20)">HC</text><text x="472.70" y="584.20" font-size="8.6" fill="#444" text-anchor="end" textLength="13.60" lengthAdjust="spacingAndGlyphs" stroke="#444" stroke-width="0.22" transform="rotate(-45 472.70 584.20)">pES</text><text x="500.10" y="584.20" font-size="8.6" fill="#444" text-anchor="end" textLength="14.60" lengthAdjust="spacingAndGlyphs" stroke="#444" stroke-width="0.22" transform="rotate(-45 500.10 584.20)">cITP</text><text x="411.00" y="540.40" font-size="9.2" fill="#444" textLength="16.80" lengthAdjust="spacingAndGlyphs" stroke="#444" stroke-width="0.22" transform="rotate(-90 411.00 540.40)">Score</text><text x="433.00" y="471.30" font-size="8.8" fill="#444" textLength="58.20" lengthAdjust="spacingAndGlyphs" stroke="#444" stroke-width="0.22">Immune scoring</text><path d="M441.5 485.2H495.1M439.7 494.2H467.6M468.8 498.2H496.9" stroke="#333" stroke-width="0.9"/><text x="470.30" y="482.60" font-size="8.6" fill="#444" text-anchor="middle" textLength="8.20" lengthAdjust="spacingAndGlyphs" stroke="#444" stroke-width="0.22">ns</text><text x="452.20" y="494.00" font-size="6.6" fill="#333" text-anchor="middle" font-weight="bold" textLength="9.70" lengthAdjust="spacingAndGlyphs">****</text><text x="481.20" y="498.20" font-size="6.6" fill="#333" text-anchor="middle" font-weight="bold" textLength="9.90" lengthAdjust="spacingAndGlyphs">****</text><path d="M468.4 505.74V523.28" stroke="#222" stroke-width="0.9"/><rect x="431.80" y="573.75" width="18.10" height="4.3" rx="2.15" fill="#141414"/><circle cx="434.10" cy="575.90" r="1.15" fill="#f0102c"/><circle cx="437.80" cy="575.90" r="1.15" fill="#f0102c"/><circle cx="441.30" cy="575.90" r="1.15" fill="#f0102c"/><circle cx="444.40" cy="575.90" r="1.15" fill="#f0102c"/><circle cx="447.60" cy="575.90" r="1.15" fill="#f0102c"/><rect x="439.10" y="556.21" width="4.60" height="4.3" rx="2.15" fill="#141414"/><circle cx="441.40" cy="558.36" r="1.15" fill="#f0102c"/><rect x="461.90" y="503.59" width="14.00" height="4.3" rx="2.15" fill="#141414"/><circle cx="464.20" cy="505.74" r="1.15" fill="#2a7fd0"/><circle cx="467.60" cy="505.74" r="1.15" fill="#2a7fd0"/><circle cx="470.70" cy="505.74" r="1.15" fill="#2a7fd0"/><circle cx="473.60" cy="505.74" r="1.15" fill="#2a7fd0"/><rect x="459.30" y="521.13" width="18.60" height="4.3" rx="2.15" fill="#141414"/><circle cx="461.60" cy="523.28" r="1.15" fill="#2a7fd0"/><circle cx="465.20" cy="523.28" r="1.15" fill="#2a7fd0"/><circle cx="468.50" cy="523.28" r="1.15" fill="#2a7fd0"/><circle cx="472.20" cy="523.28" r="1.15" fill="#2a7fd0"/><circle cx="475.60" cy="523.28" r="1.15" fill="#2a7fd0"/><rect x="464.70" y="538.67" width="8.00" height="4.3" rx="2.15" fill="#141414"/><circle cx="467.00" cy="540.82" r="1.15" fill="#2a7fd0"/><circle cx="470.40" cy="540.82" r="1.15" fill="#2a7fd0"/><rect x="486.90" y="573.75" width="18.30" height="4.3" rx="2.15" fill="#141414"/><circle cx="489.20" cy="575.90" r="1.15" fill="#3ad24a"/><circle cx="491.50" cy="575.90" r="1.15" fill="#3ad24a"/><circle cx="493.50" cy="575.90" r="1.15" fill="#3ad24a"/><circle cx="496.90" cy="575.90" r="1.15" fill="#3ad24a"/><circle cx="500.60" cy="575.90" r="1.15" fill="#3ad24a"/><circle cx="502.90" cy="575.90" r="1.15" fill="#3ad24a"/><rect x="492.50" y="556.21" width="6.60" height="4.3" rx="2.15" fill="#141414"/><circle cx="494.80" cy="558.36" r="1.15" fill="#3ad24a"/><circle cx="496.80" cy="558.36" r="1.15" fill="#3ad24a"/><text x="7.90" y="14.70" font-size="10.6" fill="#111" font-weight="bold" textLength="8.60" lengthAdjust="spacingAndGlyphs">A</text><text x="8.40" y="207.10" font-size="10.6" fill="#111" font-weight="bold">B</text><text x="8.20" y="467.40" font-size="10.6" fill="#111" font-weight="bold" textLength="8.30" lengthAdjust="spacingAndGlyphs">C</text><text x="123.30" y="467.00" font-size="10.6" fill="#111" font-weight="bold" textLength="8.40" lengthAdjust="spacingAndGlyphs">D</text><text x="242.30" y="467.20" font-size="10.6" fill="#111" font-weight="bold">E</text><text x="414.60" y="467.00" font-size="10.6" fill="#111" font-weight="bold">F</text><rect x="0.5" y="0.5" width="519" height="614" fill="none" stroke="#000" stroke-width="1.2"/></svg>
</body></html>
